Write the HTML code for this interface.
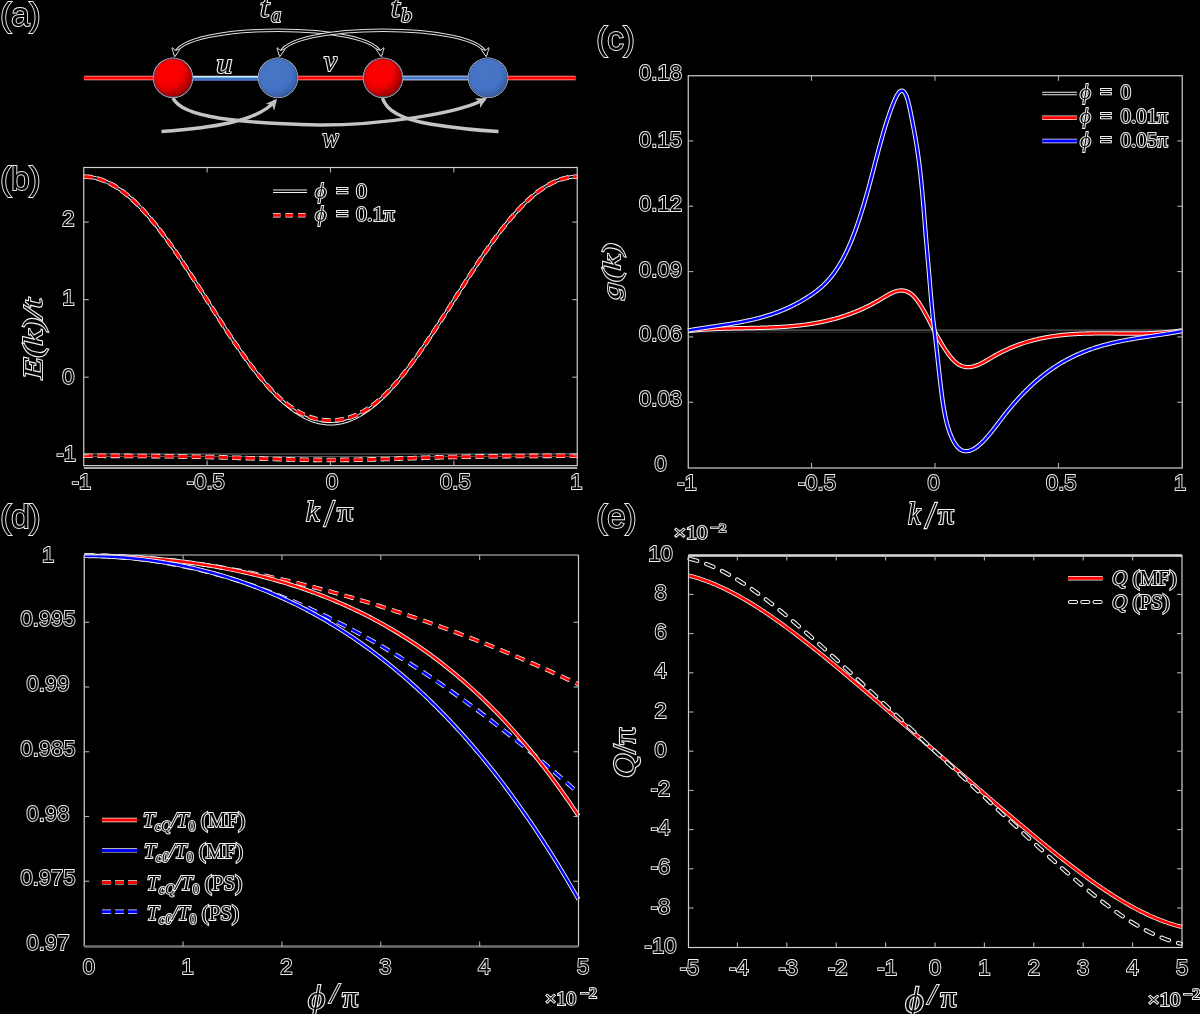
<!DOCTYPE html>
<html><head><meta charset="utf-8"><style>
html,body{margin:0;padding:0;background:#000;}
svg{display:block;will-change:transform;}
.s{font-family:"Liberation Sans",sans-serif;fill:#000;stroke:#efefef;stroke-width:1.8;paint-order:stroke;}
.m{font-family:"Liberation Serif",serif;fill:#000;stroke:#efefef;stroke-width:2;paint-order:stroke;}
.mi{font-family:"Liberation Serif",serif;font-style:italic;fill:#000;stroke:#efefef;stroke-width:2;paint-order:stroke;}
</style></head><body>
<svg width="1200" height="1014" viewBox="0 0 1200 1014">
<rect width="1200" height="1014" fill="#000"/>
<text x="0.25" y="25.5" class="s" font-size="33">(a)</text>
<text x="0.25" y="190" class="s" font-size="33">(b)</text>
<text x="596.25" y="49.5" class="s" font-size="33">(c)</text>
<text x="0.25" y="528" class="s" font-size="33">(d)</text>
<text x="596.25" y="528" class="s" font-size="33">(e)</text>
<defs>
<radialGradient id="gr" cx="0.38" cy="0.35" r="0.7"><stop offset="0" stop-color="#ff0000"/><stop offset="0.55" stop-color="#f40000"/><stop offset="1" stop-color="#8a0000"/></radialGradient>
<radialGradient id="gb" cx="0.4" cy="0.38" r="0.72"><stop offset="0" stop-color="#4a78c8"/><stop offset="0.6" stop-color="#4472c4"/><stop offset="1" stop-color="#2f5597"/></radialGradient>
<marker id="ah" viewBox="0 0 10 10" refX="8" refY="5" markerWidth="9" markerHeight="9" orient="auto-start-reverse" markerUnits="userSpaceOnUse"><path d="M0,0 L10,5 L0,10 L3,5 Z" fill="#000" stroke="#e0e0e0" stroke-width="1"/></marker>
<marker id="ag" viewBox="0 0 10 10" refX="8" refY="5" markerWidth="11" markerHeight="11" orient="auto" markerUnits="userSpaceOnUse"><path d="M0,0 L10,5 L0,10 L3,5 Z" fill="#c0c0c0"/></marker>
</defs>
<line x1="84" y1="78" x2="575.5" y2="78" stroke="#ffb0b0" stroke-width="4.4"/>
<line x1="84" y1="78" x2="575.5" y2="78" stroke="#ff0000" stroke-width="2.8"/>
<line x1="190" y1="78.5" x2="262" y2="78.5" stroke="#4472c4" stroke-width="4.6"/>
<line x1="190" y1="76.8" x2="262" y2="76.8" stroke="#c8f4ff" stroke-width="1.6"/>
<line x1="400" y1="78" x2="472" y2="78" stroke="#9ab8e8" stroke-width="4.4"/>
<line x1="400" y1="78" x2="472" y2="78" stroke="#4472c4" stroke-width="2.6"/>
<path d="M173,98 C182,118 240,123 320,125 C380,125 458,114 485,99" fill="none" stroke="#c4c4c4" stroke-width="3.4" marker-end="url(#ag)"/>
<path d="M161.5,131.5 C210,128 258,122 275.5,100.5" fill="none" stroke="#c4c4c4" stroke-width="3.4" marker-end="url(#ag)"/>
<path d="M382.5,98 C386,110 400,119 430,124 C455,128 480,130.5 498.5,131.5" fill="none" stroke="#c4c4c4" stroke-width="3.4"/>
<circle cx="173" cy="77.8" r="20.2" fill="#e0e0e0"/>
<circle cx="173" cy="77.8" r="19.3" fill="url(#gr)" stroke="#2f4a80" stroke-width="0.8"/>
<circle cx="278" cy="77.8" r="20.2" fill="#e0e0e0"/>
<circle cx="278" cy="77.8" r="19.3" fill="url(#gb)" stroke="#2f4a80" stroke-width="0.8"/>
<circle cx="383" cy="77.8" r="20.2" fill="#e0e0e0"/>
<circle cx="383" cy="77.8" r="19.3" fill="url(#gr)" stroke="#2f4a80" stroke-width="0.8"/>
<circle cx="488" cy="77.8" r="20.2" fill="#e0e0e0"/>
<circle cx="488" cy="77.8" r="19.3" fill="url(#gb)" stroke="#2f4a80" stroke-width="0.8"/>
<path d="M175,55 C180,22 376,22 381,55" fill="none" stroke="#e0e0e0" stroke-width="3.4"/>
<path d="M175,55 C180,22 376,22 381,55" fill="none" stroke="#000" stroke-width="1.4" marker-start="url(#ah)" marker-end="url(#ah)"/>
<path d="M280,55 C285,22 481,22 486,55" fill="none" stroke="#e0e0e0" stroke-width="3.4"/>
<path d="M280,55 C285,22 481,22 486,55" fill="none" stroke="#000" stroke-width="1.4" marker-start="url(#ah)" marker-end="url(#ah)"/>
<text transform="translate(260.00,17.05) scale(1.1000,0.9474)" class="mi" font-size="30">t</text>
<text transform="translate(270.92,22.06) scale(0.9231,0.9417)" class="mi" font-size="22">a</text>
<text transform="translate(391.00,17.05) scale(1.0500,0.9474)" class="mi" font-size="30">t</text>
<text transform="translate(401.00,22.06) scale(1.0000,0.9375)" class="mi" font-size="22">b</text>
<text transform="translate(216.30,73.03) scale(1.1429,0.9733)" class="mi" font-size="28">u</text>
<text transform="translate(324.05,71.45) scale(1.0467,1.0467)" class="mi" font-size="28">v</text>
<text transform="translate(322.57,146.55) scale(0.8714,0.9467)" class="mi" font-size="28">w</text>
<path d="M83.75,176.66L85.4,176.68L87.04,176.76L88.69,176.9L90.33,177.09L91.97,177.33L93.62,177.63L95.26,177.98L96.91,178.39L98.56,178.84L100.2,179.36L101.84,179.92L103.49,180.54L105.13,181.21L106.78,181.93L108.42,182.7L110.07,183.53L111.71,184.4L113.36,185.33L115,186.31L116.65,187.34L118.3,188.41L119.94,189.54L121.59,190.71L123.23,191.94L124.88,193.21L126.52,194.52L128.17,195.89L129.81,197.3L131.46,198.75L133.1,200.25L134.75,201.79L136.39,203.38L138.03,205.01L139.68,206.68L141.33,208.39L142.97,210.14L144.62,211.93L146.26,213.76L147.91,215.63L149.55,217.53L151.2,219.47L152.84,221.45L154.48,223.46L156.13,225.5L157.78,227.58L159.42,229.69L161.06,231.83L162.71,234L164.35,236.2L166,238.42L167.65,240.68L169.29,242.96L170.93,245.26L172.58,247.59L174.22,249.95L175.87,252.32L177.52,254.72L179.16,257.13L180.81,259.57L182.45,262.02L184.1,264.49L185.74,266.97L187.39,269.47L189.03,271.98L190.68,274.51L192.32,277.04L193.97,279.59L195.61,282.15L197.25,284.71L198.9,287.28L200.55,289.86L202.19,292.44L203.84,295.02L205.48,297.61L207.12,300.19L208.77,302.78L210.42,305.37L212.06,307.95L213.71,310.53L215.35,313.11L217,315.68L218.64,318.24L220.28,320.79L221.93,323.34L223.57,325.88L225.22,328.4L226.87,330.92L228.51,333.41L230.16,335.9L231.8,338.37L233.44,340.82L235.09,343.25L236.74,345.67L238.38,348.07L240.03,350.44L241.67,352.79L243.31,355.12L244.96,357.43L246.61,359.71L248.25,361.96L249.89,364.19L251.54,366.39L253.19,368.56L254.83,370.7L256.48,372.81L258.12,374.88L259.76,376.93L261.41,378.94L263.06,380.91L264.7,382.86L266.35,384.76L267.99,386.63L269.63,388.46L271.28,390.25L272.93,392L274.57,393.71L276.22,395.38L277.86,397.01L279.5,398.59L281.15,400.14L282.8,401.64L284.44,403.09L286.09,404.5L287.73,405.86L289.38,407.18L291.02,408.45L292.67,409.67L294.31,410.85L295.96,411.97L297.6,413.05L299.25,414.08L300.89,415.05L302.54,415.98L304.18,416.86L305.82,417.68L307.47,418.46L309.12,419.18L310.76,419.85L312.41,420.47L314.05,421.03L315.69,421.54L317.34,422L318.99,422.4L320.63,422.76L322.27,423.05L323.92,423.3L325.56,423.49L327.21,423.62L328.86,423.7L330.5,423.73L332.15,423.7L333.79,423.62L335.44,423.49L337.08,423.3L338.73,423.05L340.37,422.76L342.01,422.4L343.66,422L345.31,421.54L346.95,421.03L348.6,420.47L350.24,419.85L351.88,419.18L353.53,418.46L355.18,417.68L356.82,416.86L358.47,415.98L360.11,415.05L361.75,414.08L363.4,413.05L365.05,411.97L366.69,410.85L368.33,409.67L369.98,408.45L371.62,407.18L373.27,405.86L374.92,404.5L376.56,403.09L378.2,401.64L379.85,400.14L381.5,398.59L383.14,397.01L384.78,395.38L386.43,393.71L388.08,392L389.72,390.25L391.37,388.46L393.01,386.63L394.65,384.76L396.3,382.86L397.95,380.91L399.59,378.94L401.24,376.93L402.88,374.88L404.52,372.81L406.17,370.7L407.82,368.56L409.46,366.39L411.11,364.19L412.75,361.96L414.4,359.71L416.04,357.43L417.69,355.12L419.33,352.79L420.98,350.44L422.62,348.07L424.27,345.67L425.91,343.25L427.56,340.82L429.2,338.37L430.85,335.9L432.49,333.41L434.14,330.92L435.78,328.4L437.43,325.88L439.07,323.34L440.72,320.79L442.36,318.24L444.01,315.68L445.65,313.11L447.3,310.53L448.94,307.95L450.59,305.37L452.23,302.78L453.88,300.19L455.52,297.61L457.17,295.02L458.81,292.44L460.46,289.86L462.1,287.28L463.75,284.71L465.39,282.15L467.04,279.59L468.68,277.04L470.33,274.51L471.97,271.98L473.62,269.47L475.26,266.97L476.91,264.49L478.55,262.02L480.19,259.57L481.84,257.13L483.49,254.72L485.13,252.32L486.78,249.95L488.42,247.59L490.07,245.26L491.71,242.96L493.36,240.68L495,238.42L496.64,236.2L498.29,234L499.94,231.83L501.58,229.69L503.23,227.58L504.87,225.5L506.51,223.46L508.16,221.45L509.81,219.47L511.45,217.53L513.1,215.63L514.74,213.76L516.38,211.93L518.03,210.14L519.68,208.39L521.32,206.68L522.97,205.01L524.61,203.38L526.25,201.79L527.9,200.25L529.55,198.75L531.19,197.3L532.84,195.89L534.48,194.52L536.12,193.21L537.77,191.94L539.41,190.71L541.06,189.54L542.71,188.41L544.35,187.34L546,186.31L547.64,185.33L549.29,184.4L550.93,183.53L552.58,182.7L554.22,181.93L555.87,181.21L557.51,180.54L559.15,179.92L560.8,179.36L562.45,178.84L564.09,178.39L565.74,177.98L567.38,177.63L569.03,177.33L570.67,177.09L572.32,176.9L573.96,176.76L575.61,176.68L577.25,176.66" fill="none" stroke="#efefef" stroke-width="3.6" stroke-linecap="butt" stroke-linejoin="round"/>
<path d="M83.75,176.66L85.4,176.68L87.04,176.76L88.69,176.9L90.33,177.09L91.97,177.33L93.62,177.63L95.26,177.98L96.91,178.39L98.56,178.84L100.2,179.36L101.84,179.92L103.49,180.54L105.13,181.21L106.78,181.93L108.42,182.7L110.07,183.53L111.71,184.4L113.36,185.33L115,186.31L116.65,187.34L118.3,188.41L119.94,189.54L121.59,190.71L123.23,191.94L124.88,193.21L126.52,194.52L128.17,195.89L129.81,197.3L131.46,198.75L133.1,200.25L134.75,201.79L136.39,203.38L138.03,205.01L139.68,206.68L141.33,208.39L142.97,210.14L144.62,211.93L146.26,213.76L147.91,215.63L149.55,217.53L151.2,219.47L152.84,221.45L154.48,223.46L156.13,225.5L157.78,227.58L159.42,229.69L161.06,231.83L162.71,234L164.35,236.2L166,238.42L167.65,240.68L169.29,242.96L170.93,245.26L172.58,247.59L174.22,249.95L175.87,252.32L177.52,254.72L179.16,257.13L180.81,259.57L182.45,262.02L184.1,264.49L185.74,266.97L187.39,269.47L189.03,271.98L190.68,274.51L192.32,277.04L193.97,279.59L195.61,282.15L197.25,284.71L198.9,287.28L200.55,289.86L202.19,292.44L203.84,295.02L205.48,297.61L207.12,300.19L208.77,302.78L210.42,305.37L212.06,307.95L213.71,310.53L215.35,313.11L217,315.68L218.64,318.24L220.28,320.79L221.93,323.34L223.57,325.88L225.22,328.4L226.87,330.92L228.51,333.41L230.16,335.9L231.8,338.37L233.44,340.82L235.09,343.25L236.74,345.67L238.38,348.07L240.03,350.44L241.67,352.79L243.31,355.12L244.96,357.43L246.61,359.71L248.25,361.96L249.89,364.19L251.54,366.39L253.19,368.56L254.83,370.7L256.48,372.81L258.12,374.88L259.76,376.93L261.41,378.94L263.06,380.91L264.7,382.86L266.35,384.76L267.99,386.63L269.63,388.46L271.28,390.25L272.93,392L274.57,393.71L276.22,395.38L277.86,397.01L279.5,398.59L281.15,400.14L282.8,401.64L284.44,403.09L286.09,404.5L287.73,405.86L289.38,407.18L291.02,408.45L292.67,409.67L294.31,410.85L295.96,411.97L297.6,413.05L299.25,414.08L300.89,415.05L302.54,415.98L304.18,416.86L305.82,417.68L307.47,418.46L309.12,419.18L310.76,419.85L312.41,420.47L314.05,421.03L315.69,421.54L317.34,422L318.99,422.4L320.63,422.76L322.27,423.05L323.92,423.3L325.56,423.49L327.21,423.62L328.86,423.7L330.5,423.73L332.15,423.7L333.79,423.62L335.44,423.49L337.08,423.3L338.73,423.05L340.37,422.76L342.01,422.4L343.66,422L345.31,421.54L346.95,421.03L348.6,420.47L350.24,419.85L351.88,419.18L353.53,418.46L355.18,417.68L356.82,416.86L358.47,415.98L360.11,415.05L361.75,414.08L363.4,413.05L365.05,411.97L366.69,410.85L368.33,409.67L369.98,408.45L371.62,407.18L373.27,405.86L374.92,404.5L376.56,403.09L378.2,401.64L379.85,400.14L381.5,398.59L383.14,397.01L384.78,395.38L386.43,393.71L388.08,392L389.72,390.25L391.37,388.46L393.01,386.63L394.65,384.76L396.3,382.86L397.95,380.91L399.59,378.94L401.24,376.93L402.88,374.88L404.52,372.81L406.17,370.7L407.82,368.56L409.46,366.39L411.11,364.19L412.75,361.96L414.4,359.71L416.04,357.43L417.69,355.12L419.33,352.79L420.98,350.44L422.62,348.07L424.27,345.67L425.91,343.25L427.56,340.82L429.2,338.37L430.85,335.9L432.49,333.41L434.14,330.92L435.78,328.4L437.43,325.88L439.07,323.34L440.72,320.79L442.36,318.24L444.01,315.68L445.65,313.11L447.3,310.53L448.94,307.95L450.59,305.37L452.23,302.78L453.88,300.19L455.52,297.61L457.17,295.02L458.81,292.44L460.46,289.86L462.1,287.28L463.75,284.71L465.39,282.15L467.04,279.59L468.68,277.04L470.33,274.51L471.97,271.98L473.62,269.47L475.26,266.97L476.91,264.49L478.55,262.02L480.19,259.57L481.84,257.13L483.49,254.72L485.13,252.32L486.78,249.95L488.42,247.59L490.07,245.26L491.71,242.96L493.36,240.68L495,238.42L496.64,236.2L498.29,234L499.94,231.83L501.58,229.69L503.23,227.58L504.87,225.5L506.51,223.46L508.16,221.45L509.81,219.47L511.45,217.53L513.1,215.63L514.74,213.76L516.38,211.93L518.03,210.14L519.68,208.39L521.32,206.68L522.97,205.01L524.61,203.38L526.25,201.79L527.9,200.25L529.55,198.75L531.19,197.3L532.84,195.89L534.48,194.52L536.12,193.21L537.77,191.94L539.41,190.71L541.06,189.54L542.71,188.41L544.35,187.34L546,186.31L547.64,185.33L549.29,184.4L550.93,183.53L552.58,182.7L554.22,181.93L555.87,181.21L557.51,180.54L559.15,179.92L560.8,179.36L562.45,178.84L564.09,178.39L565.74,177.98L567.38,177.63L569.03,177.33L570.67,177.09L572.32,176.9L573.96,176.76L575.61,176.68L577.25,176.66" fill="none" stroke="#000" stroke-width="1.6" stroke-linecap="butt" stroke-linejoin="round"/>
<path d="M83.75,455.22L85.4,455.22L87.04,455.22L88.69,455.22L90.33,455.22L91.97,455.22L93.62,455.22L95.26,455.22L96.91,455.22L98.56,455.22L100.2,455.22L101.84,455.22L103.49,455.22L105.13,455.22L106.78,455.22L108.42,455.22L110.07,455.22L111.71,455.22L113.36,455.22L115,455.22L116.65,455.22L118.3,455.22L119.94,455.22L121.59,455.22L123.23,455.22L124.88,455.22L126.52,455.22L128.17,455.22L129.81,455.22L131.46,455.22L133.1,455.22L134.75,455.22L136.39,455.22L138.03,455.22L139.68,455.22L141.33,455.22L142.97,455.22L144.62,455.22L146.26,455.22L147.91,455.22L149.55,455.22L151.2,455.22L152.84,455.22L154.48,455.22L156.13,455.22L157.78,455.22L159.42,455.22L161.06,455.22L162.71,455.22L164.35,455.22L166,455.22L167.65,455.22L169.29,455.22L170.93,455.22L172.58,455.22L174.22,455.22L175.87,455.22L177.52,455.22L179.16,455.22L180.81,455.22L182.45,455.22L184.1,455.22L185.74,455.22L187.39,455.22L189.03,455.22L190.68,455.22L192.32,455.22L193.97,455.22L195.61,455.22L197.25,455.22L198.9,455.22L200.55,455.22L202.19,455.22L203.84,455.22L205.48,455.22L207.12,455.22L208.77,455.22L210.42,455.22L212.06,455.22L213.71,455.22L215.35,455.22L217,455.22L218.64,455.22L220.28,455.22L221.93,455.22L223.57,455.22L225.22,455.22L226.87,455.22L228.51,455.22L230.16,455.22L231.8,455.22L233.44,455.22L235.09,455.22L236.74,455.22L238.38,455.22L240.03,455.22L241.67,455.22L243.31,455.22L244.96,455.22L246.61,455.22L248.25,455.22L249.89,455.22L251.54,455.22L253.19,455.22L254.83,455.22L256.48,455.22L258.12,455.22L259.76,455.22L261.41,455.22L263.06,455.22L264.7,455.22L266.35,455.22L267.99,455.22L269.63,455.22L271.28,455.22L272.93,455.22L274.57,455.22L276.22,455.22L277.86,455.22L279.5,455.22L281.15,455.22L282.8,455.22L284.44,455.22L286.09,455.22L287.73,455.22L289.38,455.22L291.02,455.22L292.67,455.22L294.31,455.22L295.96,455.22L297.6,455.22L299.25,455.22L300.89,455.22L302.54,455.22L304.18,455.22L305.82,455.22L307.47,455.22L309.12,455.22L310.76,455.22L312.41,455.22L314.05,455.22L315.69,455.22L317.34,455.22L318.99,455.22L320.63,455.22L322.27,455.22L323.92,455.22L325.56,455.22L327.21,455.22L328.86,455.22L330.5,455.22L332.15,455.22L333.79,455.22L335.44,455.22L337.08,455.22L338.73,455.22L340.37,455.22L342.01,455.22L343.66,455.22L345.31,455.22L346.95,455.22L348.6,455.22L350.24,455.22L351.88,455.22L353.53,455.22L355.18,455.22L356.82,455.22L358.47,455.22L360.11,455.22L361.75,455.22L363.4,455.22L365.05,455.22L366.69,455.22L368.33,455.22L369.98,455.22L371.62,455.22L373.27,455.22L374.92,455.22L376.56,455.22L378.2,455.22L379.85,455.22L381.5,455.22L383.14,455.22L384.78,455.22L386.43,455.22L388.08,455.22L389.72,455.22L391.37,455.22L393.01,455.22L394.65,455.22L396.3,455.22L397.95,455.22L399.59,455.22L401.24,455.22L402.88,455.22L404.52,455.22L406.17,455.22L407.82,455.22L409.46,455.22L411.11,455.22L412.75,455.22L414.4,455.22L416.04,455.22L417.69,455.22L419.33,455.22L420.98,455.22L422.62,455.22L424.27,455.22L425.91,455.22L427.56,455.22L429.2,455.22L430.85,455.22L432.49,455.22L434.14,455.22L435.78,455.22L437.43,455.22L439.07,455.22L440.72,455.22L442.36,455.22L444.01,455.22L445.65,455.22L447.3,455.22L448.94,455.22L450.59,455.22L452.23,455.22L453.88,455.22L455.52,455.22L457.17,455.22L458.81,455.22L460.46,455.22L462.1,455.22L463.75,455.22L465.39,455.22L467.04,455.22L468.68,455.22L470.33,455.22L471.97,455.22L473.62,455.22L475.26,455.22L476.91,455.22L478.55,455.22L480.19,455.22L481.84,455.22L483.49,455.22L485.13,455.22L486.78,455.22L488.42,455.22L490.07,455.22L491.71,455.22L493.36,455.22L495,455.22L496.64,455.22L498.29,455.22L499.94,455.22L501.58,455.22L503.23,455.22L504.87,455.22L506.51,455.22L508.16,455.22L509.81,455.22L511.45,455.22L513.1,455.22L514.74,455.22L516.38,455.22L518.03,455.22L519.68,455.22L521.32,455.22L522.97,455.22L524.61,455.22L526.25,455.22L527.9,455.22L529.55,455.22L531.19,455.22L532.84,455.22L534.48,455.22L536.12,455.22L537.77,455.22L539.41,455.22L541.06,455.22L542.71,455.22L544.35,455.22L546,455.22L547.64,455.22L549.29,455.22L550.93,455.22L552.58,455.22L554.22,455.22L555.87,455.22L557.51,455.22L559.15,455.22L560.8,455.22L562.45,455.22L564.09,455.22L565.74,455.22L567.38,455.22L569.03,455.22L570.67,455.22L572.32,455.22L573.96,455.22L575.61,455.22L577.25,455.22" fill="none" stroke="#707070" stroke-width="3.2" stroke-linecap="butt" stroke-linejoin="round"/>
<path d="M83.75,455.22L85.4,455.22L87.04,455.22L88.69,455.22L90.33,455.22L91.97,455.22L93.62,455.22L95.26,455.22L96.91,455.22L98.56,455.22L100.2,455.22L101.84,455.22L103.49,455.22L105.13,455.22L106.78,455.22L108.42,455.22L110.07,455.22L111.71,455.22L113.36,455.22L115,455.22L116.65,455.22L118.3,455.22L119.94,455.22L121.59,455.22L123.23,455.22L124.88,455.22L126.52,455.22L128.17,455.22L129.81,455.22L131.46,455.22L133.1,455.22L134.75,455.22L136.39,455.22L138.03,455.22L139.68,455.22L141.33,455.22L142.97,455.22L144.62,455.22L146.26,455.22L147.91,455.22L149.55,455.22L151.2,455.22L152.84,455.22L154.48,455.22L156.13,455.22L157.78,455.22L159.42,455.22L161.06,455.22L162.71,455.22L164.35,455.22L166,455.22L167.65,455.22L169.29,455.22L170.93,455.22L172.58,455.22L174.22,455.22L175.87,455.22L177.52,455.22L179.16,455.22L180.81,455.22L182.45,455.22L184.1,455.22L185.74,455.22L187.39,455.22L189.03,455.22L190.68,455.22L192.32,455.22L193.97,455.22L195.61,455.22L197.25,455.22L198.9,455.22L200.55,455.22L202.19,455.22L203.84,455.22L205.48,455.22L207.12,455.22L208.77,455.22L210.42,455.22L212.06,455.22L213.71,455.22L215.35,455.22L217,455.22L218.64,455.22L220.28,455.22L221.93,455.22L223.57,455.22L225.22,455.22L226.87,455.22L228.51,455.22L230.16,455.22L231.8,455.22L233.44,455.22L235.09,455.22L236.74,455.22L238.38,455.22L240.03,455.22L241.67,455.22L243.31,455.22L244.96,455.22L246.61,455.22L248.25,455.22L249.89,455.22L251.54,455.22L253.19,455.22L254.83,455.22L256.48,455.22L258.12,455.22L259.76,455.22L261.41,455.22L263.06,455.22L264.7,455.22L266.35,455.22L267.99,455.22L269.63,455.22L271.28,455.22L272.93,455.22L274.57,455.22L276.22,455.22L277.86,455.22L279.5,455.22L281.15,455.22L282.8,455.22L284.44,455.22L286.09,455.22L287.73,455.22L289.38,455.22L291.02,455.22L292.67,455.22L294.31,455.22L295.96,455.22L297.6,455.22L299.25,455.22L300.89,455.22L302.54,455.22L304.18,455.22L305.82,455.22L307.47,455.22L309.12,455.22L310.76,455.22L312.41,455.22L314.05,455.22L315.69,455.22L317.34,455.22L318.99,455.22L320.63,455.22L322.27,455.22L323.92,455.22L325.56,455.22L327.21,455.22L328.86,455.22L330.5,455.22L332.15,455.22L333.79,455.22L335.44,455.22L337.08,455.22L338.73,455.22L340.37,455.22L342.01,455.22L343.66,455.22L345.31,455.22L346.95,455.22L348.6,455.22L350.24,455.22L351.88,455.22L353.53,455.22L355.18,455.22L356.82,455.22L358.47,455.22L360.11,455.22L361.75,455.22L363.4,455.22L365.05,455.22L366.69,455.22L368.33,455.22L369.98,455.22L371.62,455.22L373.27,455.22L374.92,455.22L376.56,455.22L378.2,455.22L379.85,455.22L381.5,455.22L383.14,455.22L384.78,455.22L386.43,455.22L388.08,455.22L389.72,455.22L391.37,455.22L393.01,455.22L394.65,455.22L396.3,455.22L397.95,455.22L399.59,455.22L401.24,455.22L402.88,455.22L404.52,455.22L406.17,455.22L407.82,455.22L409.46,455.22L411.11,455.22L412.75,455.22L414.4,455.22L416.04,455.22L417.69,455.22L419.33,455.22L420.98,455.22L422.62,455.22L424.27,455.22L425.91,455.22L427.56,455.22L429.2,455.22L430.85,455.22L432.49,455.22L434.14,455.22L435.78,455.22L437.43,455.22L439.07,455.22L440.72,455.22L442.36,455.22L444.01,455.22L445.65,455.22L447.3,455.22L448.94,455.22L450.59,455.22L452.23,455.22L453.88,455.22L455.52,455.22L457.17,455.22L458.81,455.22L460.46,455.22L462.1,455.22L463.75,455.22L465.39,455.22L467.04,455.22L468.68,455.22L470.33,455.22L471.97,455.22L473.62,455.22L475.26,455.22L476.91,455.22L478.55,455.22L480.19,455.22L481.84,455.22L483.49,455.22L485.13,455.22L486.78,455.22L488.42,455.22L490.07,455.22L491.71,455.22L493.36,455.22L495,455.22L496.64,455.22L498.29,455.22L499.94,455.22L501.58,455.22L503.23,455.22L504.87,455.22L506.51,455.22L508.16,455.22L509.81,455.22L511.45,455.22L513.1,455.22L514.74,455.22L516.38,455.22L518.03,455.22L519.68,455.22L521.32,455.22L522.97,455.22L524.61,455.22L526.25,455.22L527.9,455.22L529.55,455.22L531.19,455.22L532.84,455.22L534.48,455.22L536.12,455.22L537.77,455.22L539.41,455.22L541.06,455.22L542.71,455.22L544.35,455.22L546,455.22L547.64,455.22L549.29,455.22L550.93,455.22L552.58,455.22L554.22,455.22L555.87,455.22L557.51,455.22L559.15,455.22L560.8,455.22L562.45,455.22L564.09,455.22L565.74,455.22L567.38,455.22L569.03,455.22L570.67,455.22L572.32,455.22L573.96,455.22L575.61,455.22L577.25,455.22" fill="none" stroke="#000" stroke-width="1.6" stroke-linecap="butt" stroke-linejoin="round"/>
<path d="M83.75,176.66L85.4,176.68L87.04,176.76L88.69,176.9L90.33,177.09L91.97,177.33L93.62,177.63L95.26,177.98L96.91,178.39L98.56,178.84L100.2,179.36L101.84,179.92L103.49,180.54L105.13,181.21L106.78,181.93L108.42,182.7L110.07,183.53L111.71,184.4L113.36,185.33L115,186.31L116.65,187.34L118.3,188.41L119.94,189.54L121.59,190.71L123.23,191.94L124.88,193.21L126.52,194.52L128.17,195.89L129.81,197.3L131.46,198.75L133.1,200.25L134.75,201.79L136.39,203.38L138.03,205.01L139.68,206.68L141.33,208.39L142.97,210.14L144.62,211.93L146.26,213.76L147.91,215.63L149.55,217.53L151.2,219.47L152.84,221.45L154.48,223.46L156.13,225.5L157.78,227.58L159.42,229.69L161.06,231.83L162.71,234L164.35,236.2L166,238.42L167.65,240.68L169.29,242.96L170.93,245.26L172.58,247.59L174.22,249.95L175.87,252.32L177.52,254.72L179.16,257.13L180.81,259.57L182.45,262.02L184.1,264.49L185.74,266.97L187.39,269.47L189.03,271.98L190.68,274.51L192.32,277.04L193.97,279.59L195.61,282.15L197.25,284.71L198.9,287.28L200.55,289.86L202.19,292.44L203.84,295.02L205.48,297.61L207.12,300.19L208.77,302.78L210.42,305.37L212.06,307.95L213.71,310.53L215.35,313.11L217,315.68L218.64,318.24L220.28,320.79L221.93,323.34L223.57,325.88L225.22,328.4L226.87,330.91L228.51,333.41L230.16,335.89L231.8,338.36L233.44,340.81L235.09,343.24L236.74,345.66L238.38,348.05L240.03,350.42L241.67,352.77L243.31,355.1L244.96,357.4L246.61,359.67L248.25,361.92L249.89,364.14L251.54,366.33L253.19,368.49L254.83,370.61L256.48,372.71L258.12,374.77L259.76,376.8L261.41,378.79L263.06,380.74L264.7,382.65L266.35,384.53L267.99,386.36L269.63,388.15L271.28,389.9L272.93,391.61L274.57,393.27L276.22,394.89L277.86,396.46L279.5,397.98L281.15,399.45L282.8,400.88L284.44,402.25L286.09,403.58L287.73,404.85L289.38,406.08L291.02,407.25L292.67,408.37L294.31,409.44L295.96,410.46L297.6,411.42L299.25,412.34L300.89,413.2L302.54,414.01L304.18,414.77L305.82,415.48L307.47,416.14L309.12,416.75L310.76,417.31L312.41,417.83L314.05,418.29L315.69,418.71L317.34,419.09L318.99,419.41L320.63,419.7L322.27,419.93L323.92,420.13L325.56,420.28L327.21,420.39L328.86,420.45L330.5,420.47L332.15,420.45L333.79,420.39L335.44,420.28L337.08,420.13L338.73,419.93L340.37,419.7L342.01,419.41L343.66,419.09L345.31,418.71L346.95,418.29L348.6,417.83L350.24,417.31L351.88,416.75L353.53,416.14L355.18,415.48L356.82,414.77L358.47,414.01L360.11,413.2L361.75,412.34L363.4,411.42L365.05,410.46L366.69,409.44L368.33,408.37L369.98,407.25L371.62,406.08L373.27,404.85L374.92,403.58L376.56,402.25L378.2,400.88L379.85,399.45L381.5,397.98L383.14,396.46L384.78,394.89L386.43,393.27L388.08,391.61L389.72,389.9L391.37,388.15L393.01,386.36L394.65,384.53L396.3,382.65L397.95,380.74L399.59,378.79L401.24,376.8L402.88,374.77L404.52,372.71L406.17,370.61L407.82,368.49L409.46,366.33L411.11,364.14L412.75,361.92L414.4,359.67L416.04,357.4L417.69,355.1L419.33,352.77L420.98,350.42L422.62,348.05L424.27,345.66L425.91,343.24L427.56,340.81L429.2,338.36L430.85,335.89L432.49,333.41L434.14,330.91L435.78,328.4L437.43,325.88L439.07,323.34L440.72,320.79L442.36,318.24L444.01,315.68L445.65,313.11L447.3,310.53L448.94,307.95L450.59,305.37L452.23,302.78L453.88,300.19L455.52,297.61L457.17,295.02L458.81,292.44L460.46,289.86L462.1,287.28L463.75,284.71L465.39,282.15L467.04,279.59L468.68,277.04L470.33,274.51L471.97,271.98L473.62,269.47L475.26,266.97L476.91,264.49L478.55,262.02L480.19,259.57L481.84,257.13L483.49,254.72L485.13,252.32L486.78,249.95L488.42,247.59L490.07,245.26L491.71,242.96L493.36,240.68L495,238.42L496.64,236.2L498.29,234L499.94,231.83L501.58,229.69L503.23,227.58L504.87,225.5L506.51,223.46L508.16,221.45L509.81,219.47L511.45,217.53L513.1,215.63L514.74,213.76L516.38,211.93L518.03,210.14L519.68,208.39L521.32,206.68L522.97,205.01L524.61,203.38L526.25,201.79L527.9,200.25L529.55,198.75L531.19,197.3L532.84,195.89L534.48,194.52L536.12,193.21L537.77,191.94L539.41,190.71L541.06,189.54L542.71,188.41L544.35,187.34L546,186.31L547.64,185.33L549.29,184.4L550.93,183.53L552.58,182.7L554.22,181.93L555.87,181.21L557.51,180.54L559.15,179.92L560.8,179.36L562.45,178.84L564.09,178.39L565.74,177.98L567.38,177.63L569.03,177.33L570.67,177.09L572.32,176.9L573.96,176.76L575.61,176.68L577.25,176.66" fill="none" stroke="#efefef" stroke-width="4.6" stroke-dasharray="9 4.5" stroke-linecap="butt" stroke-linejoin="round"/>
<path d="M83.75,176.66L85.4,176.68L87.04,176.76L88.69,176.9L90.33,177.09L91.97,177.33L93.62,177.63L95.26,177.98L96.91,178.39L98.56,178.84L100.2,179.36L101.84,179.92L103.49,180.54L105.13,181.21L106.78,181.93L108.42,182.7L110.07,183.53L111.71,184.4L113.36,185.33L115,186.31L116.65,187.34L118.3,188.41L119.94,189.54L121.59,190.71L123.23,191.94L124.88,193.21L126.52,194.52L128.17,195.89L129.81,197.3L131.46,198.75L133.1,200.25L134.75,201.79L136.39,203.38L138.03,205.01L139.68,206.68L141.33,208.39L142.97,210.14L144.62,211.93L146.26,213.76L147.91,215.63L149.55,217.53L151.2,219.47L152.84,221.45L154.48,223.46L156.13,225.5L157.78,227.58L159.42,229.69L161.06,231.83L162.71,234L164.35,236.2L166,238.42L167.65,240.68L169.29,242.96L170.93,245.26L172.58,247.59L174.22,249.95L175.87,252.32L177.52,254.72L179.16,257.13L180.81,259.57L182.45,262.02L184.1,264.49L185.74,266.97L187.39,269.47L189.03,271.98L190.68,274.51L192.32,277.04L193.97,279.59L195.61,282.15L197.25,284.71L198.9,287.28L200.55,289.86L202.19,292.44L203.84,295.02L205.48,297.61L207.12,300.19L208.77,302.78L210.42,305.37L212.06,307.95L213.71,310.53L215.35,313.11L217,315.68L218.64,318.24L220.28,320.79L221.93,323.34L223.57,325.88L225.22,328.4L226.87,330.91L228.51,333.41L230.16,335.89L231.8,338.36L233.44,340.81L235.09,343.24L236.74,345.66L238.38,348.05L240.03,350.42L241.67,352.77L243.31,355.1L244.96,357.4L246.61,359.67L248.25,361.92L249.89,364.14L251.54,366.33L253.19,368.49L254.83,370.61L256.48,372.71L258.12,374.77L259.76,376.8L261.41,378.79L263.06,380.74L264.7,382.65L266.35,384.53L267.99,386.36L269.63,388.15L271.28,389.9L272.93,391.61L274.57,393.27L276.22,394.89L277.86,396.46L279.5,397.98L281.15,399.45L282.8,400.88L284.44,402.25L286.09,403.58L287.73,404.85L289.38,406.08L291.02,407.25L292.67,408.37L294.31,409.44L295.96,410.46L297.6,411.42L299.25,412.34L300.89,413.2L302.54,414.01L304.18,414.77L305.82,415.48L307.47,416.14L309.12,416.75L310.76,417.31L312.41,417.83L314.05,418.29L315.69,418.71L317.34,419.09L318.99,419.41L320.63,419.7L322.27,419.93L323.92,420.13L325.56,420.28L327.21,420.39L328.86,420.45L330.5,420.47L332.15,420.45L333.79,420.39L335.44,420.28L337.08,420.13L338.73,419.93L340.37,419.7L342.01,419.41L343.66,419.09L345.31,418.71L346.95,418.29L348.6,417.83L350.24,417.31L351.88,416.75L353.53,416.14L355.18,415.48L356.82,414.77L358.47,414.01L360.11,413.2L361.75,412.34L363.4,411.42L365.05,410.46L366.69,409.44L368.33,408.37L369.98,407.25L371.62,406.08L373.27,404.85L374.92,403.58L376.56,402.25L378.2,400.88L379.85,399.45L381.5,397.98L383.14,396.46L384.78,394.89L386.43,393.27L388.08,391.61L389.72,389.9L391.37,388.15L393.01,386.36L394.65,384.53L396.3,382.65L397.95,380.74L399.59,378.79L401.24,376.8L402.88,374.77L404.52,372.71L406.17,370.61L407.82,368.49L409.46,366.33L411.11,364.14L412.75,361.92L414.4,359.67L416.04,357.4L417.69,355.1L419.33,352.77L420.98,350.42L422.62,348.05L424.27,345.66L425.91,343.24L427.56,340.81L429.2,338.36L430.85,335.89L432.49,333.41L434.14,330.91L435.78,328.4L437.43,325.88L439.07,323.34L440.72,320.79L442.36,318.24L444.01,315.68L445.65,313.11L447.3,310.53L448.94,307.95L450.59,305.37L452.23,302.78L453.88,300.19L455.52,297.61L457.17,295.02L458.81,292.44L460.46,289.86L462.1,287.28L463.75,284.71L465.39,282.15L467.04,279.59L468.68,277.04L470.33,274.51L471.97,271.98L473.62,269.47L475.26,266.97L476.91,264.49L478.55,262.02L480.19,259.57L481.84,257.13L483.49,254.72L485.13,252.32L486.78,249.95L488.42,247.59L490.07,245.26L491.71,242.96L493.36,240.68L495,238.42L496.64,236.2L498.29,234L499.94,231.83L501.58,229.69L503.23,227.58L504.87,225.5L506.51,223.46L508.16,221.45L509.81,219.47L511.45,217.53L513.1,215.63L514.74,213.76L516.38,211.93L518.03,210.14L519.68,208.39L521.32,206.68L522.97,205.01L524.61,203.38L526.25,201.79L527.9,200.25L529.55,198.75L531.19,197.3L532.84,195.89L534.48,194.52L536.12,193.21L537.77,191.94L539.41,190.71L541.06,189.54L542.71,188.41L544.35,187.34L546,186.31L547.64,185.33L549.29,184.4L550.93,183.53L552.58,182.7L554.22,181.93L555.87,181.21L557.51,180.54L559.15,179.92L560.8,179.36L562.45,178.84L564.09,178.39L565.74,177.98L567.38,177.63L569.03,177.33L570.67,177.09L572.32,176.9L573.96,176.76L575.61,176.68L577.25,176.66" fill="none" stroke="#ff0000" stroke-width="3.0" stroke-dasharray="9 4.5" stroke-linecap="butt" stroke-linejoin="round"/>
<path d="M83.75,455.79L85.4,455.79L87.04,455.79L88.69,455.79L90.33,455.8L91.97,455.8L93.62,455.8L95.26,455.81L96.91,455.81L98.56,455.81L100.2,455.81L101.84,455.82L103.49,455.82L105.13,455.83L106.78,455.83L108.42,455.83L110.07,455.84L111.71,455.84L113.36,455.85L115,455.86L116.65,455.86L118.3,455.87L119.94,455.87L121.59,455.88L123.23,455.89L124.88,455.89L126.52,455.9L128.17,455.91L129.81,455.92L131.46,455.93L133.1,455.94L134.75,455.95L136.39,455.96L138.03,455.97L139.68,455.98L141.33,455.99L142.97,456L144.62,456.01L146.26,456.03L147.91,456.04L149.55,456.05L151.2,456.07L152.84,456.08L154.48,456.1L156.13,456.11L157.78,456.13L159.42,456.15L161.06,456.17L162.71,456.19L164.35,456.2L166,456.22L167.65,456.25L169.29,456.27L170.93,456.29L172.58,456.31L174.22,456.34L175.87,456.36L177.52,456.39L179.16,456.41L180.81,456.44L182.45,456.47L184.1,456.49L185.74,456.52L187.39,456.55L189.03,456.58L190.68,456.62L192.32,456.65L193.97,456.68L195.61,456.72L197.25,456.75L198.9,456.79L200.55,456.82L202.19,456.86L203.84,456.9L205.48,456.94L207.12,456.98L208.77,457.02L210.42,457.06L212.06,457.1L213.71,457.14L215.35,457.19L217,457.23L218.64,457.28L220.28,457.32L221.93,457.37L223.57,457.41L225.22,457.46L226.87,457.51L228.51,457.56L230.16,457.61L231.8,457.66L233.44,457.71L235.09,457.76L236.74,457.81L238.38,457.86L240.03,457.91L241.67,457.97L243.31,458.02L244.96,458.07L246.61,458.12L248.25,458.18L249.89,458.23L251.54,458.28L253.19,458.34L254.83,458.39L256.48,458.44L258.12,458.5L259.76,458.55L261.41,458.6L263.06,458.65L264.7,458.71L266.35,458.76L267.99,458.81L269.63,458.86L271.28,458.91L272.93,458.96L274.57,459.01L276.22,459.06L277.86,459.1L279.5,459.15L281.15,459.2L282.8,459.24L284.44,459.28L286.09,459.33L287.73,459.37L289.38,459.41L291.02,459.45L292.67,459.49L294.31,459.52L295.96,459.56L297.6,459.59L299.25,459.63L300.89,459.66L302.54,459.69L304.18,459.72L305.82,459.74L307.47,459.77L309.12,459.79L310.76,459.82L312.41,459.84L314.05,459.85L315.69,459.87L317.34,459.89L318.99,459.9L320.63,459.91L322.27,459.92L323.92,459.93L325.56,459.94L327.21,459.94L328.86,459.94L330.5,459.95L332.15,459.94L333.79,459.94L335.44,459.94L337.08,459.93L338.73,459.92L340.37,459.91L342.01,459.9L343.66,459.89L345.31,459.87L346.95,459.85L348.6,459.84L350.24,459.82L351.88,459.79L353.53,459.77L355.18,459.74L356.82,459.72L358.47,459.69L360.11,459.66L361.75,459.63L363.4,459.59L365.05,459.56L366.69,459.52L368.33,459.49L369.98,459.45L371.62,459.41L373.27,459.37L374.92,459.33L376.56,459.28L378.2,459.24L379.85,459.2L381.5,459.15L383.14,459.1L384.78,459.06L386.43,459.01L388.08,458.96L389.72,458.91L391.37,458.86L393.01,458.81L394.65,458.76L396.3,458.71L397.95,458.65L399.59,458.6L401.24,458.55L402.88,458.5L404.52,458.44L406.17,458.39L407.82,458.34L409.46,458.28L411.11,458.23L412.75,458.18L414.4,458.12L416.04,458.07L417.69,458.02L419.33,457.97L420.98,457.91L422.62,457.86L424.27,457.81L425.91,457.76L427.56,457.71L429.2,457.66L430.85,457.61L432.49,457.56L434.14,457.51L435.78,457.46L437.43,457.41L439.07,457.37L440.72,457.32L442.36,457.28L444.01,457.23L445.65,457.19L447.3,457.14L448.94,457.1L450.59,457.06L452.23,457.02L453.88,456.98L455.52,456.94L457.17,456.9L458.81,456.86L460.46,456.82L462.1,456.79L463.75,456.75L465.39,456.72L467.04,456.68L468.68,456.65L470.33,456.62L471.97,456.58L473.62,456.55L475.26,456.52L476.91,456.49L478.55,456.47L480.19,456.44L481.84,456.41L483.49,456.39L485.13,456.36L486.78,456.34L488.42,456.31L490.07,456.29L491.71,456.27L493.36,456.25L495,456.22L496.64,456.2L498.29,456.19L499.94,456.17L501.58,456.15L503.23,456.13L504.87,456.11L506.51,456.1L508.16,456.08L509.81,456.07L511.45,456.05L513.1,456.04L514.74,456.03L516.38,456.01L518.03,456L519.68,455.99L521.32,455.98L522.97,455.97L524.61,455.96L526.25,455.95L527.9,455.94L529.55,455.93L531.19,455.92L532.84,455.91L534.48,455.9L536.12,455.89L537.77,455.89L539.41,455.88L541.06,455.87L542.71,455.87L544.35,455.86L546,455.86L547.64,455.85L549.29,455.84L550.93,455.84L552.58,455.83L554.22,455.83L555.87,455.83L557.51,455.82L559.15,455.82L560.8,455.81L562.45,455.81L564.09,455.81L565.74,455.81L567.38,455.8L569.03,455.8L570.67,455.8L572.32,455.79L573.96,455.79L575.61,455.79L577.25,455.79" fill="none" stroke="#efefef" stroke-width="4.6" stroke-dasharray="9 4.5" stroke-linecap="butt" stroke-linejoin="round"/>
<path d="M83.75,455.79L85.4,455.79L87.04,455.79L88.69,455.79L90.33,455.8L91.97,455.8L93.62,455.8L95.26,455.81L96.91,455.81L98.56,455.81L100.2,455.81L101.84,455.82L103.49,455.82L105.13,455.83L106.78,455.83L108.42,455.83L110.07,455.84L111.71,455.84L113.36,455.85L115,455.86L116.65,455.86L118.3,455.87L119.94,455.87L121.59,455.88L123.23,455.89L124.88,455.89L126.52,455.9L128.17,455.91L129.81,455.92L131.46,455.93L133.1,455.94L134.75,455.95L136.39,455.96L138.03,455.97L139.68,455.98L141.33,455.99L142.97,456L144.62,456.01L146.26,456.03L147.91,456.04L149.55,456.05L151.2,456.07L152.84,456.08L154.48,456.1L156.13,456.11L157.78,456.13L159.42,456.15L161.06,456.17L162.71,456.19L164.35,456.2L166,456.22L167.65,456.25L169.29,456.27L170.93,456.29L172.58,456.31L174.22,456.34L175.87,456.36L177.52,456.39L179.16,456.41L180.81,456.44L182.45,456.47L184.1,456.49L185.74,456.52L187.39,456.55L189.03,456.58L190.68,456.62L192.32,456.65L193.97,456.68L195.61,456.72L197.25,456.75L198.9,456.79L200.55,456.82L202.19,456.86L203.84,456.9L205.48,456.94L207.12,456.98L208.77,457.02L210.42,457.06L212.06,457.1L213.71,457.14L215.35,457.19L217,457.23L218.64,457.28L220.28,457.32L221.93,457.37L223.57,457.41L225.22,457.46L226.87,457.51L228.51,457.56L230.16,457.61L231.8,457.66L233.44,457.71L235.09,457.76L236.74,457.81L238.38,457.86L240.03,457.91L241.67,457.97L243.31,458.02L244.96,458.07L246.61,458.12L248.25,458.18L249.89,458.23L251.54,458.28L253.19,458.34L254.83,458.39L256.48,458.44L258.12,458.5L259.76,458.55L261.41,458.6L263.06,458.65L264.7,458.71L266.35,458.76L267.99,458.81L269.63,458.86L271.28,458.91L272.93,458.96L274.57,459.01L276.22,459.06L277.86,459.1L279.5,459.15L281.15,459.2L282.8,459.24L284.44,459.28L286.09,459.33L287.73,459.37L289.38,459.41L291.02,459.45L292.67,459.49L294.31,459.52L295.96,459.56L297.6,459.59L299.25,459.63L300.89,459.66L302.54,459.69L304.18,459.72L305.82,459.74L307.47,459.77L309.12,459.79L310.76,459.82L312.41,459.84L314.05,459.85L315.69,459.87L317.34,459.89L318.99,459.9L320.63,459.91L322.27,459.92L323.92,459.93L325.56,459.94L327.21,459.94L328.86,459.94L330.5,459.95L332.15,459.94L333.79,459.94L335.44,459.94L337.08,459.93L338.73,459.92L340.37,459.91L342.01,459.9L343.66,459.89L345.31,459.87L346.95,459.85L348.6,459.84L350.24,459.82L351.88,459.79L353.53,459.77L355.18,459.74L356.82,459.72L358.47,459.69L360.11,459.66L361.75,459.63L363.4,459.59L365.05,459.56L366.69,459.52L368.33,459.49L369.98,459.45L371.62,459.41L373.27,459.37L374.92,459.33L376.56,459.28L378.2,459.24L379.85,459.2L381.5,459.15L383.14,459.1L384.78,459.06L386.43,459.01L388.08,458.96L389.72,458.91L391.37,458.86L393.01,458.81L394.65,458.76L396.3,458.71L397.95,458.65L399.59,458.6L401.24,458.55L402.88,458.5L404.52,458.44L406.17,458.39L407.82,458.34L409.46,458.28L411.11,458.23L412.75,458.18L414.4,458.12L416.04,458.07L417.69,458.02L419.33,457.97L420.98,457.91L422.62,457.86L424.27,457.81L425.91,457.76L427.56,457.71L429.2,457.66L430.85,457.61L432.49,457.56L434.14,457.51L435.78,457.46L437.43,457.41L439.07,457.37L440.72,457.32L442.36,457.28L444.01,457.23L445.65,457.19L447.3,457.14L448.94,457.1L450.59,457.06L452.23,457.02L453.88,456.98L455.52,456.94L457.17,456.9L458.81,456.86L460.46,456.82L462.1,456.79L463.75,456.75L465.39,456.72L467.04,456.68L468.68,456.65L470.33,456.62L471.97,456.58L473.62,456.55L475.26,456.52L476.91,456.49L478.55,456.47L480.19,456.44L481.84,456.41L483.49,456.39L485.13,456.36L486.78,456.34L488.42,456.31L490.07,456.29L491.71,456.27L493.36,456.25L495,456.22L496.64,456.2L498.29,456.19L499.94,456.17L501.58,456.15L503.23,456.13L504.87,456.11L506.51,456.1L508.16,456.08L509.81,456.07L511.45,456.05L513.1,456.04L514.74,456.03L516.38,456.01L518.03,456L519.68,455.99L521.32,455.98L522.97,455.97L524.61,455.96L526.25,455.95L527.9,455.94L529.55,455.93L531.19,455.92L532.84,455.91L534.48,455.9L536.12,455.89L537.77,455.89L539.41,455.88L541.06,455.87L542.71,455.87L544.35,455.86L546,455.86L547.64,455.85L549.29,455.84L550.93,455.84L552.58,455.83L554.22,455.83L555.87,455.83L557.51,455.82L559.15,455.82L560.8,455.81L562.45,455.81L564.09,455.81L565.74,455.81L567.38,455.8L569.03,455.8L570.67,455.8L572.32,455.79L573.96,455.79L575.61,455.79L577.25,455.79" fill="none" stroke="#ff0000" stroke-width="3.0" stroke-dasharray="9 4.5" stroke-linecap="butt" stroke-linejoin="round"/>
<rect x="83.75" y="167.5" width="493.5" height="298.1" fill="none" stroke="#cfcfcf" stroke-width="1.2"/>
<line x1="83.75" y1="468.1" x2="577.25" y2="468.1" stroke="#e0e0e0" stroke-width="1.5"/>
<line x1="207.12" y1="465.6" x2="207.12" y2="460.6" stroke="#b0b0b0" stroke-width="1.1"/>
<line x1="207.12" y1="167.5" x2="207.12" y2="172.5" stroke="#b0b0b0" stroke-width="1.1"/>
<line x1="330.5" y1="465.6" x2="330.5" y2="460.6" stroke="#b0b0b0" stroke-width="1.1"/>
<line x1="330.5" y1="167.5" x2="330.5" y2="172.5" stroke="#b0b0b0" stroke-width="1.1"/>
<line x1="453.88" y1="465.6" x2="453.88" y2="460.6" stroke="#b0b0b0" stroke-width="1.1"/>
<line x1="453.88" y1="167.5" x2="453.88" y2="172.5" stroke="#b0b0b0" stroke-width="1.1"/>
<line x1="83.75" y1="454.75" x2="88.75" y2="454.75" stroke="#b0b0b0" stroke-width="1.1"/>
<line x1="577.25" y1="454.75" x2="572.25" y2="454.75" stroke="#b0b0b0" stroke-width="1.1"/>
<line x1="83.75" y1="377.2" x2="88.75" y2="377.2" stroke="#b0b0b0" stroke-width="1.1"/>
<line x1="577.25" y1="377.2" x2="572.25" y2="377.2" stroke="#b0b0b0" stroke-width="1.1"/>
<line x1="83.75" y1="299.65" x2="88.75" y2="299.65" stroke="#b0b0b0" stroke-width="1.1"/>
<line x1="577.25" y1="299.65" x2="572.25" y2="299.65" stroke="#b0b0b0" stroke-width="1.1"/>
<line x1="83.75" y1="222.1" x2="88.75" y2="222.1" stroke="#b0b0b0" stroke-width="1.1"/>
<line x1="577.25" y1="222.1" x2="572.25" y2="222.1" stroke="#b0b0b0" stroke-width="1.1"/>
<text x="74.5" y="226.1" class="s" font-size="22" text-anchor="end">2</text>
<text x="74.5" y="305.15" class="s" font-size="22" text-anchor="end">1</text>
<text x="74.5" y="383.7" class="s" font-size="22" text-anchor="end">0</text>
<text x="76" y="460.75" class="s" font-size="22" text-anchor="end">-1</text>
<text x="81.45" y="489" class="s" font-size="22" text-anchor="middle">-1</text>
<text x="205.82" y="489" class="s" font-size="22" text-anchor="middle">-0.5</text>
<text x="332" y="489" class="s" font-size="22" text-anchor="middle">0</text>
<text x="455.38" y="489" class="s" font-size="22" text-anchor="middle">0.5</text>
<text x="576.25" y="489" class="s" font-size="22" text-anchor="middle">1</text>
<path d="M273,191.2 L307,191.2" fill="none" stroke="#efefef" stroke-width="3.6" stroke-linecap="butt" stroke-linejoin="round"/>
<path d="M273,191.2 L307,191.2" fill="none" stroke="#000" stroke-width="1.6" stroke-linecap="butt" stroke-linejoin="round"/>
<path d="M273,215.2 L307,215.2" fill="none" stroke="#efefef" stroke-width="4.4" stroke-dasharray="7.5 5" stroke-linecap="butt" stroke-linejoin="round"/>
<path d="M273,215.2 L307,215.2" fill="none" stroke="#ff0000" stroke-width="3.0" stroke-dasharray="7.5 5" stroke-linecap="butt" stroke-linejoin="round"/>
<text x="315" y="198" class="mi" font-size="22">&#981;</text>
<text x="336" y="198" class="m" font-size="22">=</text>
<text x="356" y="198" class="m" font-size="22">0</text>
<text x="315" y="221" class="mi" font-size="22">&#981;</text>
<text x="336" y="221" class="m" font-size="22">=</text>
<text x="356" y="221" class="m" font-size="22">0.1&#960;</text>
<text transform="translate(306.00,521.00) scale(1.0000,1.0000)" class="mi" font-size="30">k</text>
<text transform="translate(325.36,525.71) scale(0.8867,1.2857)" class="mi" font-size="30">/</text>
<text transform="translate(337.12,520.72) scale(1.1250,0.9800)" class="m" font-size="28">&#960;</text>
<text transform="translate(42.37,379.05) rotate(-90) scale(1.2243,0.9533)" class="mi" font-size="29">E(k)/t</text>
<line x1="688.25" y1="330.2" x2="1182.25" y2="330.2" stroke="#474747" stroke-width="2"/>
<line x1="688.25" y1="332.4" x2="1182.25" y2="332.4" stroke="#2a2a2a" stroke-width="0.8"/>
<path d="M688,331.05L688.82,330.95L689.65,330.86L690.47,330.77L691.3,330.68L692.12,330.59L692.95,330.51L693.77,330.43L694.6,330.35L695.42,330.27L696.25,330.2L697.07,330.12L697.9,330.05L698.72,329.98L699.55,329.91L700.37,329.85L701.2,329.78L702.02,329.72L702.84,329.66L703.67,329.6L704.49,329.55L705.32,329.49L706.14,329.44L706.97,329.39L707.79,329.34L708.62,329.29L709.44,329.24L710.27,329.19L711.09,329.15L711.92,329.11L712.74,329.07L713.57,329.03L714.39,328.99L715.22,328.95L716.04,328.91L716.86,328.88L717.69,328.84L718.51,328.81L719.34,328.78L720.16,328.75L720.99,328.72L721.81,328.69L722.64,328.66L723.46,328.64L724.29,328.61L725.11,328.59L725.94,328.56L726.76,328.54L727.59,328.52L728.41,328.49L729.24,328.47L730.06,328.45L730.88,328.43L731.71,328.41L732.53,328.39L733.36,328.37L734.18,328.36L735.01,328.34L735.83,328.32L736.66,328.3L737.48,328.29L738.31,328.27L739.13,328.26L739.96,328.24L740.78,328.22L741.61,328.21L742.43,328.19L743.26,328.18L744.08,328.16L744.9,328.15L745.73,328.13L746.55,328.12L747.38,328.1L748.2,328.09L749.03,328.07L749.85,328.06L750.68,328.04L751.5,328.02L752.33,328.01L753.15,327.99L753.98,327.97L754.8,327.96L755.63,327.94L756.45,327.92L757.28,327.9L758.1,327.88L758.92,327.86L759.75,327.84L760.57,327.82L761.4,327.79L762.22,327.77L763.05,327.75L763.87,327.72L764.7,327.7L765.52,327.67L766.35,327.64L767.17,327.62L768,327.59L768.82,327.56L769.65,327.53L770.47,327.49L771.3,327.46L772.12,327.43L772.94,327.39L773.77,327.35L774.59,327.31L775.42,327.28L776.24,327.23L777.07,327.19L777.89,327.15L778.72,327.1L779.54,327.06L780.37,327.01L781.19,326.96L782.02,326.91L782.84,326.86L783.67,326.8L784.49,326.75L785.32,326.69L786.14,326.63L786.96,326.57L787.79,326.51L788.61,326.44L789.44,326.37L790.26,326.31L791.09,326.23L791.91,326.16L792.74,326.09L793.56,326.01L794.39,325.93L795.21,325.85L796.04,325.77L796.86,325.68L797.69,325.6L798.51,325.51L799.34,325.41L800.16,325.32L800.98,325.22L801.81,325.12L802.63,325.02L803.46,324.92L804.28,324.81L805.11,324.7L805.93,324.59L806.76,324.48L807.58,324.36L808.41,324.24L809.23,324.12L810.06,323.99L810.88,323.87L811.71,323.73L812.53,323.6L813.36,323.46L814.18,323.32L815.01,323.18L815.83,323.04L816.65,322.89L817.48,322.74L818.3,322.58L819.13,322.42L819.95,322.26L820.78,322.1L821.6,321.93L822.43,321.76L823.25,321.59L824.08,321.41L824.9,321.23L825.73,321.05L826.55,320.86L827.38,320.67L828.2,320.47L829.03,320.27L829.85,320.07L830.67,319.87L831.5,319.66L832.32,319.44L833.15,319.23L833.97,319.01L834.8,318.78L835.62,318.56L836.45,318.32L837.27,318.09L838.1,317.85L838.92,317.6L839.75,317.36L840.57,317.1L841.4,316.85L842.22,316.59L843.05,316.32L843.87,316.06L844.69,315.78L845.52,315.51L846.34,315.23L847.17,314.94L847.99,314.65L848.82,314.36L849.64,314.06L850.47,313.75L851.29,313.45L852.12,313.13L852.94,312.82L853.77,312.5L854.59,312.17L855.42,311.84L856.24,311.5L857.07,311.16L857.89,310.82L858.71,310.47L859.54,310.11L860.36,309.75L861.19,309.39L862.01,309.02L862.84,308.65L863.66,308.27L864.49,307.88L865.31,307.49L866.14,307.1L866.96,306.7L867.79,306.29L868.61,305.88L869.44,305.47L870.26,305.04L871.09,304.62L871.91,304.19L872.73,303.75L873.56,303.31L874.38,302.86L875.21,302.4L876.03,301.94L876.86,301.48L877.68,301.01L878.51,300.53L879.33,300.05L880.16,299.56L880.98,299.07L881.81,298.57L882.63,298.08L883.46,297.58L884.28,297.08L885.11,296.59L885.93,296.11L886.75,295.63L887.58,295.16L888.4,294.7L889.23,294.26L890.05,293.83L890.88,293.42L891.7,293.03L892.53,292.65L893.35,292.31L894.18,291.98L895,291.68L895.83,291.42L896.65,291.18L897.48,290.97L898.3,290.8L899.13,290.66L899.95,290.56L900.77,290.5L901.6,290.48L902.42,290.51L903.25,290.58L904.07,290.7L904.9,290.87L905.72,291.08L906.55,291.35L907.37,291.68L908.2,292.06L909.02,292.5L909.85,293L910.67,293.56L911.5,294.19L912.32,294.88L913.15,295.64L913.97,296.47L914.79,297.37L915.62,298.34L916.44,299.37L917.27,300.45L918.09,301.6L918.92,302.79L919.74,304.04L920.57,305.33L921.39,306.66L922.22,308.04L923.04,309.45L923.87,310.89L924.69,312.36L925.52,313.86L926.34,315.38L927.17,316.92L927.99,318.47L928.81,320.04L929.64,321.62L930.46,323.21L931.29,324.8L932.11,326.38L932.94,327.97L933.76,329.55L934.59,331.11L935.41,332.67L936.24,334.2L937.06,335.73L937.89,337.23L938.71,338.71L939.54,340.17L940.36,341.61L941.19,343.03L942.01,344.41L942.83,345.77L943.66,347.1L944.48,348.4L945.31,349.67L946.13,350.91L946.96,352.1L947.78,353.27L948.61,354.39L949.43,355.47L950.26,356.51L951.08,357.51L951.91,358.46L952.73,359.37L953.56,360.23L954.38,361.04L955.21,361.8L956.03,362.51L956.85,363.16L957.68,363.76L958.5,364.3L959.33,364.79L960.15,365.23L960.98,365.62L961.8,365.97L962.63,366.26L963.45,366.51L964.28,366.72L965.1,366.88L965.93,367L966.75,367.08L967.58,367.12L968.4,367.13L969.23,367.09L970.05,367.03L970.87,366.93L971.7,366.79L972.52,366.63L973.35,366.44L974.17,366.22L975,365.97L975.82,365.7L976.65,365.41L977.47,365.09L978.3,364.75L979.12,364.4L979.95,364.02L980.77,363.63L981.6,363.22L982.42,362.8L983.25,362.36L984.07,361.92L984.89,361.46L985.72,360.99L986.54,360.52L987.37,360.04L988.19,359.56L989.02,359.08L989.84,358.59L990.67,358.1L991.49,357.62L992.32,357.13L993.14,356.65L993.97,356.18L994.79,355.71L995.62,355.25L996.44,354.79L997.27,354.34L998.09,353.9L998.91,353.46L999.74,353.03L1000.56,352.6L1001.39,352.18L1002.21,351.77L1003.04,351.37L1003.86,350.96L1004.69,350.57L1005.51,350.18L1006.34,349.8L1007.16,349.42L1007.99,349.05L1008.81,348.68L1009.64,348.32L1010.46,347.97L1011.29,347.62L1012.11,347.28L1012.93,346.94L1013.76,346.6L1014.58,346.28L1015.41,345.96L1016.23,345.64L1017.06,345.33L1017.88,345.02L1018.71,344.72L1019.53,344.43L1020.36,344.13L1021.18,343.85L1022.01,343.57L1022.83,343.29L1023.66,343.02L1024.48,342.76L1025.31,342.5L1026.13,342.24L1026.95,341.99L1027.78,341.74L1028.6,341.5L1029.43,341.26L1030.25,341.03L1031.08,340.8L1031.9,340.58L1032.73,340.36L1033.55,340.14L1034.38,339.93L1035.2,339.73L1036.03,339.52L1036.85,339.33L1037.68,339.13L1038.5,338.94L1039.33,338.76L1040.15,338.58L1040.97,338.4L1041.8,338.23L1042.62,338.06L1043.45,337.89L1044.27,337.73L1045.1,337.57L1045.92,337.42L1046.75,337.27L1047.57,337.12L1048.4,336.98L1049.22,336.84L1050.05,336.7L1050.87,336.57L1051.7,336.44L1052.52,336.31L1053.35,336.19L1054.17,336.07L1054.99,335.96L1055.82,335.84L1056.64,335.74L1057.47,335.63L1058.29,335.53L1059.12,335.43L1059.94,335.33L1060.77,335.24L1061.59,335.14L1062.42,335.06L1063.24,334.97L1064.07,334.89L1064.89,334.81L1065.72,334.73L1066.54,334.66L1067.37,334.59L1068.19,334.52L1069.02,334.45L1069.84,334.39L1070.66,334.32L1071.49,334.27L1072.31,334.21L1073.14,334.15L1073.96,334.1L1074.79,334.05L1075.61,334L1076.44,333.96L1077.26,333.91L1078.09,333.87L1078.91,333.83L1079.74,333.8L1080.56,333.76L1081.39,333.73L1082.21,333.7L1083.04,333.67L1083.86,333.64L1084.68,333.61L1085.51,333.59L1086.33,333.56L1087.16,333.54L1087.98,333.52L1088.81,333.5L1089.63,333.48L1090.46,333.47L1091.28,333.45L1092.11,333.44L1092.93,333.43L1093.76,333.42L1094.58,333.41L1095.41,333.4L1096.23,333.4L1097.06,333.39L1097.88,333.38L1098.7,333.38L1099.53,333.38L1100.35,333.38L1101.18,333.37L1102,333.37L1102.83,333.37L1103.65,333.37L1104.48,333.38L1105.3,333.38L1106.13,333.38L1106.95,333.39L1107.78,333.39L1108.6,333.39L1109.43,333.4L1110.25,333.4L1111.08,333.41L1111.9,333.42L1112.72,333.42L1113.55,333.43L1114.37,333.43L1115.2,333.44L1116.02,333.45L1116.85,333.45L1117.67,333.46L1118.5,333.47L1119.32,333.47L1120.15,333.48L1120.97,333.49L1121.8,333.49L1122.62,333.5L1123.45,333.5L1124.27,333.51L1125.1,333.51L1125.92,333.52L1126.74,333.52L1127.57,333.52L1128.39,333.53L1129.22,333.53L1130.04,333.53L1130.87,333.53L1131.69,333.53L1132.52,333.53L1133.34,333.53L1134.17,333.53L1134.99,333.52L1135.82,333.52L1136.64,333.51L1137.47,333.51L1138.29,333.5L1139.12,333.49L1139.94,333.48L1140.76,333.47L1141.59,333.46L1142.41,333.44L1143.24,333.43L1144.06,333.41L1144.89,333.39L1145.71,333.37L1146.54,333.35L1147.36,333.33L1148.19,333.3L1149.01,333.28L1149.84,333.25L1150.66,333.22L1151.49,333.19L1152.31,333.16L1153.14,333.12L1153.96,333.09L1154.78,333.05L1155.61,333.01L1156.43,332.96L1157.26,332.92L1158.08,332.87L1158.91,332.82L1159.73,332.77L1160.56,332.72L1161.38,332.66L1162.21,332.6L1163.03,332.54L1163.86,332.48L1164.68,332.41L1165.51,332.35L1166.33,332.28L1167.16,332.2L1167.98,332.13L1168.8,332.05L1169.63,331.97L1170.45,331.88L1171.28,331.8L1172.1,331.71L1172.93,331.61L1173.75,331.52L1174.58,331.42L1175.4,331.32L1176.23,331.21L1177.05,331.1L1177.88,330.99L1178.7,330.88L1179.53,330.76L1180.35,330.64L1181.18,330.51L1182,330.39" fill="none" stroke="#efefef" stroke-width="4.4" stroke-linecap="butt" stroke-linejoin="round"/>
<path d="M688,331.05L688.82,330.95L689.65,330.86L690.47,330.77L691.3,330.68L692.12,330.59L692.95,330.51L693.77,330.43L694.6,330.35L695.42,330.27L696.25,330.2L697.07,330.12L697.9,330.05L698.72,329.98L699.55,329.91L700.37,329.85L701.2,329.78L702.02,329.72L702.84,329.66L703.67,329.6L704.49,329.55L705.32,329.49L706.14,329.44L706.97,329.39L707.79,329.34L708.62,329.29L709.44,329.24L710.27,329.19L711.09,329.15L711.92,329.11L712.74,329.07L713.57,329.03L714.39,328.99L715.22,328.95L716.04,328.91L716.86,328.88L717.69,328.84L718.51,328.81L719.34,328.78L720.16,328.75L720.99,328.72L721.81,328.69L722.64,328.66L723.46,328.64L724.29,328.61L725.11,328.59L725.94,328.56L726.76,328.54L727.59,328.52L728.41,328.49L729.24,328.47L730.06,328.45L730.88,328.43L731.71,328.41L732.53,328.39L733.36,328.37L734.18,328.36L735.01,328.34L735.83,328.32L736.66,328.3L737.48,328.29L738.31,328.27L739.13,328.26L739.96,328.24L740.78,328.22L741.61,328.21L742.43,328.19L743.26,328.18L744.08,328.16L744.9,328.15L745.73,328.13L746.55,328.12L747.38,328.1L748.2,328.09L749.03,328.07L749.85,328.06L750.68,328.04L751.5,328.02L752.33,328.01L753.15,327.99L753.98,327.97L754.8,327.96L755.63,327.94L756.45,327.92L757.28,327.9L758.1,327.88L758.92,327.86L759.75,327.84L760.57,327.82L761.4,327.79L762.22,327.77L763.05,327.75L763.87,327.72L764.7,327.7L765.52,327.67L766.35,327.64L767.17,327.62L768,327.59L768.82,327.56L769.65,327.53L770.47,327.49L771.3,327.46L772.12,327.43L772.94,327.39L773.77,327.35L774.59,327.31L775.42,327.28L776.24,327.23L777.07,327.19L777.89,327.15L778.72,327.1L779.54,327.06L780.37,327.01L781.19,326.96L782.02,326.91L782.84,326.86L783.67,326.8L784.49,326.75L785.32,326.69L786.14,326.63L786.96,326.57L787.79,326.51L788.61,326.44L789.44,326.37L790.26,326.31L791.09,326.23L791.91,326.16L792.74,326.09L793.56,326.01L794.39,325.93L795.21,325.85L796.04,325.77L796.86,325.68L797.69,325.6L798.51,325.51L799.34,325.41L800.16,325.32L800.98,325.22L801.81,325.12L802.63,325.02L803.46,324.92L804.28,324.81L805.11,324.7L805.93,324.59L806.76,324.48L807.58,324.36L808.41,324.24L809.23,324.12L810.06,323.99L810.88,323.87L811.71,323.73L812.53,323.6L813.36,323.46L814.18,323.32L815.01,323.18L815.83,323.04L816.65,322.89L817.48,322.74L818.3,322.58L819.13,322.42L819.95,322.26L820.78,322.1L821.6,321.93L822.43,321.76L823.25,321.59L824.08,321.41L824.9,321.23L825.73,321.05L826.55,320.86L827.38,320.67L828.2,320.47L829.03,320.27L829.85,320.07L830.67,319.87L831.5,319.66L832.32,319.44L833.15,319.23L833.97,319.01L834.8,318.78L835.62,318.56L836.45,318.32L837.27,318.09L838.1,317.85L838.92,317.6L839.75,317.36L840.57,317.1L841.4,316.85L842.22,316.59L843.05,316.32L843.87,316.06L844.69,315.78L845.52,315.51L846.34,315.23L847.17,314.94L847.99,314.65L848.82,314.36L849.64,314.06L850.47,313.75L851.29,313.45L852.12,313.13L852.94,312.82L853.77,312.5L854.59,312.17L855.42,311.84L856.24,311.5L857.07,311.16L857.89,310.82L858.71,310.47L859.54,310.11L860.36,309.75L861.19,309.39L862.01,309.02L862.84,308.65L863.66,308.27L864.49,307.88L865.31,307.49L866.14,307.1L866.96,306.7L867.79,306.29L868.61,305.88L869.44,305.47L870.26,305.04L871.09,304.62L871.91,304.19L872.73,303.75L873.56,303.31L874.38,302.86L875.21,302.4L876.03,301.94L876.86,301.48L877.68,301.01L878.51,300.53L879.33,300.05L880.16,299.56L880.98,299.07L881.81,298.57L882.63,298.08L883.46,297.58L884.28,297.08L885.11,296.59L885.93,296.11L886.75,295.63L887.58,295.16L888.4,294.7L889.23,294.26L890.05,293.83L890.88,293.42L891.7,293.03L892.53,292.65L893.35,292.31L894.18,291.98L895,291.68L895.83,291.42L896.65,291.18L897.48,290.97L898.3,290.8L899.13,290.66L899.95,290.56L900.77,290.5L901.6,290.48L902.42,290.51L903.25,290.58L904.07,290.7L904.9,290.87L905.72,291.08L906.55,291.35L907.37,291.68L908.2,292.06L909.02,292.5L909.85,293L910.67,293.56L911.5,294.19L912.32,294.88L913.15,295.64L913.97,296.47L914.79,297.37L915.62,298.34L916.44,299.37L917.27,300.45L918.09,301.6L918.92,302.79L919.74,304.04L920.57,305.33L921.39,306.66L922.22,308.04L923.04,309.45L923.87,310.89L924.69,312.36L925.52,313.86L926.34,315.38L927.17,316.92L927.99,318.47L928.81,320.04L929.64,321.62L930.46,323.21L931.29,324.8L932.11,326.38L932.94,327.97L933.76,329.55L934.59,331.11L935.41,332.67L936.24,334.2L937.06,335.73L937.89,337.23L938.71,338.71L939.54,340.17L940.36,341.61L941.19,343.03L942.01,344.41L942.83,345.77L943.66,347.1L944.48,348.4L945.31,349.67L946.13,350.91L946.96,352.1L947.78,353.27L948.61,354.39L949.43,355.47L950.26,356.51L951.08,357.51L951.91,358.46L952.73,359.37L953.56,360.23L954.38,361.04L955.21,361.8L956.03,362.51L956.85,363.16L957.68,363.76L958.5,364.3L959.33,364.79L960.15,365.23L960.98,365.62L961.8,365.97L962.63,366.26L963.45,366.51L964.28,366.72L965.1,366.88L965.93,367L966.75,367.08L967.58,367.12L968.4,367.13L969.23,367.09L970.05,367.03L970.87,366.93L971.7,366.79L972.52,366.63L973.35,366.44L974.17,366.22L975,365.97L975.82,365.7L976.65,365.41L977.47,365.09L978.3,364.75L979.12,364.4L979.95,364.02L980.77,363.63L981.6,363.22L982.42,362.8L983.25,362.36L984.07,361.92L984.89,361.46L985.72,360.99L986.54,360.52L987.37,360.04L988.19,359.56L989.02,359.08L989.84,358.59L990.67,358.1L991.49,357.62L992.32,357.13L993.14,356.65L993.97,356.18L994.79,355.71L995.62,355.25L996.44,354.79L997.27,354.34L998.09,353.9L998.91,353.46L999.74,353.03L1000.56,352.6L1001.39,352.18L1002.21,351.77L1003.04,351.37L1003.86,350.96L1004.69,350.57L1005.51,350.18L1006.34,349.8L1007.16,349.42L1007.99,349.05L1008.81,348.68L1009.64,348.32L1010.46,347.97L1011.29,347.62L1012.11,347.28L1012.93,346.94L1013.76,346.6L1014.58,346.28L1015.41,345.96L1016.23,345.64L1017.06,345.33L1017.88,345.02L1018.71,344.72L1019.53,344.43L1020.36,344.13L1021.18,343.85L1022.01,343.57L1022.83,343.29L1023.66,343.02L1024.48,342.76L1025.31,342.5L1026.13,342.24L1026.95,341.99L1027.78,341.74L1028.6,341.5L1029.43,341.26L1030.25,341.03L1031.08,340.8L1031.9,340.58L1032.73,340.36L1033.55,340.14L1034.38,339.93L1035.2,339.73L1036.03,339.52L1036.85,339.33L1037.68,339.13L1038.5,338.94L1039.33,338.76L1040.15,338.58L1040.97,338.4L1041.8,338.23L1042.62,338.06L1043.45,337.89L1044.27,337.73L1045.1,337.57L1045.92,337.42L1046.75,337.27L1047.57,337.12L1048.4,336.98L1049.22,336.84L1050.05,336.7L1050.87,336.57L1051.7,336.44L1052.52,336.31L1053.35,336.19L1054.17,336.07L1054.99,335.96L1055.82,335.84L1056.64,335.74L1057.47,335.63L1058.29,335.53L1059.12,335.43L1059.94,335.33L1060.77,335.24L1061.59,335.14L1062.42,335.06L1063.24,334.97L1064.07,334.89L1064.89,334.81L1065.72,334.73L1066.54,334.66L1067.37,334.59L1068.19,334.52L1069.02,334.45L1069.84,334.39L1070.66,334.32L1071.49,334.27L1072.31,334.21L1073.14,334.15L1073.96,334.1L1074.79,334.05L1075.61,334L1076.44,333.96L1077.26,333.91L1078.09,333.87L1078.91,333.83L1079.74,333.8L1080.56,333.76L1081.39,333.73L1082.21,333.7L1083.04,333.67L1083.86,333.64L1084.68,333.61L1085.51,333.59L1086.33,333.56L1087.16,333.54L1087.98,333.52L1088.81,333.5L1089.63,333.48L1090.46,333.47L1091.28,333.45L1092.11,333.44L1092.93,333.43L1093.76,333.42L1094.58,333.41L1095.41,333.4L1096.23,333.4L1097.06,333.39L1097.88,333.38L1098.7,333.38L1099.53,333.38L1100.35,333.38L1101.18,333.37L1102,333.37L1102.83,333.37L1103.65,333.37L1104.48,333.38L1105.3,333.38L1106.13,333.38L1106.95,333.39L1107.78,333.39L1108.6,333.39L1109.43,333.4L1110.25,333.4L1111.08,333.41L1111.9,333.42L1112.72,333.42L1113.55,333.43L1114.37,333.43L1115.2,333.44L1116.02,333.45L1116.85,333.45L1117.67,333.46L1118.5,333.47L1119.32,333.47L1120.15,333.48L1120.97,333.49L1121.8,333.49L1122.62,333.5L1123.45,333.5L1124.27,333.51L1125.1,333.51L1125.92,333.52L1126.74,333.52L1127.57,333.52L1128.39,333.53L1129.22,333.53L1130.04,333.53L1130.87,333.53L1131.69,333.53L1132.52,333.53L1133.34,333.53L1134.17,333.53L1134.99,333.52L1135.82,333.52L1136.64,333.51L1137.47,333.51L1138.29,333.5L1139.12,333.49L1139.94,333.48L1140.76,333.47L1141.59,333.46L1142.41,333.44L1143.24,333.43L1144.06,333.41L1144.89,333.39L1145.71,333.37L1146.54,333.35L1147.36,333.33L1148.19,333.3L1149.01,333.28L1149.84,333.25L1150.66,333.22L1151.49,333.19L1152.31,333.16L1153.14,333.12L1153.96,333.09L1154.78,333.05L1155.61,333.01L1156.43,332.96L1157.26,332.92L1158.08,332.87L1158.91,332.82L1159.73,332.77L1160.56,332.72L1161.38,332.66L1162.21,332.6L1163.03,332.54L1163.86,332.48L1164.68,332.41L1165.51,332.35L1166.33,332.28L1167.16,332.2L1167.98,332.13L1168.8,332.05L1169.63,331.97L1170.45,331.88L1171.28,331.8L1172.1,331.71L1172.93,331.61L1173.75,331.52L1174.58,331.42L1175.4,331.32L1176.23,331.21L1177.05,331.1L1177.88,330.99L1178.7,330.88L1179.53,330.76L1180.35,330.64L1181.18,330.51L1182,330.39" fill="none" stroke="#ff0000" stroke-width="2.4" stroke-linecap="butt" stroke-linejoin="round"/>
<path d="M688,330.52L688.82,330.37L689.65,330.23L690.47,330.09L691.3,329.94L692.12,329.8L692.95,329.66L693.77,329.53L694.6,329.39L695.42,329.25L696.25,329.12L697.07,328.99L697.9,328.86L698.72,328.73L699.55,328.6L700.37,328.47L701.2,328.34L702.02,328.22L702.84,328.09L703.67,327.97L704.49,327.84L705.32,327.72L706.14,327.59L706.97,327.47L707.79,327.35L708.62,327.23L709.44,327.11L710.27,326.98L711.09,326.86L711.92,326.74L712.74,326.62L713.57,326.5L714.39,326.38L715.22,326.26L716.04,326.14L716.86,326.01L717.69,325.89L718.51,325.77L719.34,325.65L720.16,325.52L720.99,325.4L721.81,325.28L722.64,325.15L723.46,325.02L724.29,324.9L725.11,324.77L725.94,324.64L726.76,324.51L727.59,324.38L728.41,324.25L729.24,324.12L730.06,323.98L730.88,323.85L731.71,323.71L732.53,323.57L733.36,323.43L734.18,323.29L735.01,323.15L735.83,323.01L736.66,322.86L737.48,322.71L738.31,322.56L739.13,322.41L739.96,322.26L740.78,322.1L741.61,321.94L742.43,321.78L743.26,321.62L744.08,321.46L744.9,321.29L745.73,321.12L746.55,320.95L747.38,320.78L748.2,320.6L749.03,320.42L749.85,320.24L750.68,320.05L751.5,319.87L752.33,319.68L753.15,319.48L753.98,319.29L754.8,319.09L755.63,318.88L756.45,318.68L757.28,318.47L758.1,318.26L758.92,318.04L759.75,317.82L760.57,317.6L761.4,317.37L762.22,317.14L763.05,316.91L763.87,316.67L764.7,316.43L765.52,316.19L766.35,315.94L767.17,315.69L768,315.43L768.82,315.17L769.65,314.91L770.47,314.64L771.3,314.36L772.12,314.09L772.94,313.8L773.77,313.52L774.59,313.23L775.42,312.93L776.24,312.63L777.07,312.32L777.89,312.01L778.72,311.7L779.54,311.38L780.37,311.06L781.19,310.73L782.02,310.39L782.84,310.05L783.67,309.71L784.49,309.36L785.32,309L786.14,308.64L786.96,308.27L787.79,307.9L788.61,307.52L789.44,307.14L790.26,306.75L791.09,306.36L791.91,305.96L792.74,305.55L793.56,305.14L794.39,304.72L795.21,304.3L796.04,303.87L796.86,303.43L797.69,302.99L798.51,302.54L799.34,302.09L800.16,301.62L800.98,301.16L801.81,300.68L802.63,300.2L803.46,299.71L804.28,299.22L805.11,298.72L805.93,298.21L806.76,297.69L807.58,297.17L808.41,296.64L809.23,296.1L810.06,295.56L810.88,295.01L811.71,294.45L812.53,293.88L813.36,293.31L814.18,292.72L815.01,292.12L815.83,291.5L816.65,290.88L817.48,290.24L818.3,289.58L819.13,288.91L819.95,288.22L820.78,287.51L821.6,286.79L822.43,286.05L823.25,285.28L824.08,284.49L824.9,283.69L825.73,282.85L826.55,282L827.38,281.12L828.2,280.21L829.03,279.28L829.85,278.32L830.67,277.33L831.5,276.32L832.32,275.27L833.15,274.19L833.97,273.08L834.8,271.94L835.62,270.76L836.45,269.55L837.27,268.31L838.1,267.02L838.92,265.7L839.75,264.35L840.57,262.95L841.4,261.52L842.22,260.04L843.05,258.52L843.87,256.96L844.69,255.36L845.52,253.71L846.34,252.02L847.17,250.28L847.99,248.5L848.82,246.67L849.64,244.79L850.47,242.86L851.29,240.88L852.12,238.85L852.94,236.76L853.77,234.63L854.59,232.44L855.42,230.2L856.24,227.9L857.07,225.56L857.89,223.16L858.71,220.72L859.54,218.22L860.36,215.68L861.19,213.09L862.01,210.45L862.84,207.76L863.66,205.03L864.49,202.26L865.31,199.44L866.14,196.58L866.96,193.67L867.79,190.73L868.61,187.74L869.44,184.71L870.26,181.64L871.09,178.54L871.91,175.4L872.73,172.23L873.56,169.05L874.38,165.86L875.21,162.67L876.03,159.49L876.86,156.32L877.68,153.19L878.51,150.09L879.33,147.03L880.16,144.01L880.98,141.04L881.81,138.11L882.63,135.24L883.46,132.41L884.28,129.64L885.11,126.92L885.93,124.25L886.75,121.65L887.58,119.1L888.4,116.61L889.23,114.19L890.05,111.83L890.88,109.54L891.7,107.32L892.53,105.17L893.35,103.1L894.18,101.11L895,99.22L895.83,97.47L896.65,95.87L897.48,94.44L898.3,93.2L899.13,92.19L899.95,91.41L900.77,90.9L901.6,90.67L902.42,90.74L903.25,91.15L904.07,91.9L904.9,93.02L905.72,94.54L906.55,96.47L907.37,98.84L908.2,101.68L909.02,104.98L909.85,108.71L910.67,112.74L911.5,116.96L912.32,121.27L913.15,125.59L913.97,129.97L914.79,134.48L915.62,139.18L916.44,144.15L917.27,149.46L918.09,155.16L918.92,161.32L919.74,168.02L920.57,175.31L921.39,183.26L922.22,191.91L923.04,201.28L923.87,211.4L924.69,221.93L925.52,232.37L926.34,242.32L927.17,251.91L927.99,261.38L928.81,270.99L929.64,280.9L930.46,290.88L931.29,300.53L932.11,309.5L932.94,317.44L933.76,324.55L934.59,331.39L935.41,338.44L936.24,345.77L937.06,353.28L937.89,360.87L938.71,368.43L939.54,375.86L940.36,383.06L941.19,389.93L942.01,396.37L942.83,402.27L943.66,407.57L944.48,412.3L945.31,416.5L946.13,420.25L946.96,423.58L947.78,426.55L948.61,429.23L949.43,431.65L950.26,433.89L951.08,435.95L951.91,437.86L952.73,439.62L953.56,441.22L954.38,442.68L955.21,444L956.03,445.2L956.85,446.26L957.68,447.2L958.5,448.03L959.33,448.75L960.15,449.36L960.98,449.87L961.8,450.3L962.63,450.63L963.45,450.88L964.28,451.05L965.1,451.15L965.93,451.19L966.75,451.16L967.58,451.08L968.4,450.95L969.23,450.77L970.05,450.53L970.87,450.26L971.7,449.93L972.52,449.56L973.35,449.15L974.17,448.7L975,448.2L975.82,447.67L976.65,447.1L977.47,446.49L978.3,445.84L979.12,445.17L979.95,444.46L980.77,443.72L981.6,442.94L982.42,442.14L983.25,441.32L984.07,440.47L984.89,439.59L985.72,438.69L986.54,437.77L987.37,436.82L988.19,435.86L989.02,434.88L989.84,433.89L990.67,432.88L991.49,431.85L992.32,430.82L993.14,429.77L993.97,428.71L994.79,427.64L995.62,426.57L996.44,425.49L997.27,424.41L998.09,423.33L998.91,422.24L999.74,421.15L1000.56,420.06L1001.39,418.98L1002.21,417.9L1003.04,416.83L1003.86,415.76L1004.69,414.7L1005.51,413.65L1006.34,412.6L1007.16,411.57L1007.99,410.55L1008.81,409.54L1009.64,408.53L1010.46,407.54L1011.29,406.55L1012.11,405.58L1012.93,404.61L1013.76,403.66L1014.58,402.71L1015.41,401.77L1016.23,400.84L1017.06,399.92L1017.88,399.01L1018.71,398.11L1019.53,397.22L1020.36,396.33L1021.18,395.46L1022.01,394.59L1022.83,393.74L1023.66,392.89L1024.48,392.05L1025.31,391.22L1026.13,390.4L1026.95,389.59L1027.78,388.78L1028.6,387.99L1029.43,387.2L1030.25,386.42L1031.08,385.65L1031.9,384.89L1032.73,384.14L1033.55,383.39L1034.38,382.65L1035.2,381.93L1036.03,381.21L1036.85,380.49L1037.68,379.79L1038.5,379.1L1039.33,378.41L1040.15,377.73L1040.97,377.06L1041.8,376.39L1042.62,375.74L1043.45,375.09L1044.27,374.45L1045.1,373.82L1045.92,373.2L1046.75,372.58L1047.57,371.97L1048.4,371.37L1049.22,370.78L1050.05,370.19L1050.87,369.61L1051.7,369.04L1052.52,368.48L1053.35,367.92L1054.17,367.37L1054.99,366.83L1055.82,366.29L1056.64,365.76L1057.47,365.24L1058.29,364.72L1059.12,364.22L1059.94,363.71L1060.77,363.22L1061.59,362.73L1062.42,362.25L1063.24,361.77L1064.07,361.3L1064.89,360.84L1065.72,360.39L1066.54,359.94L1067.37,359.49L1068.19,359.05L1069.02,358.62L1069.84,358.2L1070.66,357.78L1071.49,357.36L1072.31,356.96L1073.14,356.55L1073.96,356.16L1074.79,355.77L1075.61,355.38L1076.44,355L1077.26,354.63L1078.09,354.26L1078.91,353.9L1079.74,353.54L1080.56,353.19L1081.39,352.84L1082.21,352.5L1083.04,352.16L1083.86,351.83L1084.68,351.5L1085.51,351.18L1086.33,350.86L1087.16,350.55L1087.98,350.24L1088.81,349.94L1089.63,349.64L1090.46,349.34L1091.28,349.05L1092.11,348.77L1092.93,348.49L1093.76,348.21L1094.58,347.94L1095.41,347.67L1096.23,347.41L1097.06,347.15L1097.88,346.89L1098.7,346.64L1099.53,346.39L1100.35,346.14L1101.18,345.9L1102,345.67L1102.83,345.43L1103.65,345.2L1104.48,344.98L1105.3,344.76L1106.13,344.54L1106.95,344.32L1107.78,344.11L1108.6,343.9L1109.43,343.69L1110.25,343.49L1111.08,343.29L1111.9,343.09L1112.72,342.9L1113.55,342.71L1114.37,342.52L1115.2,342.34L1116.02,342.15L1116.85,341.97L1117.67,341.8L1118.5,341.62L1119.32,341.45L1120.15,341.28L1120.97,341.11L1121.8,340.95L1122.62,340.78L1123.45,340.62L1124.27,340.46L1125.1,340.31L1125.92,340.15L1126.74,340L1127.57,339.85L1128.39,339.7L1129.22,339.55L1130.04,339.41L1130.87,339.26L1131.69,339.12L1132.52,338.98L1133.34,338.84L1134.17,338.7L1134.99,338.57L1135.82,338.43L1136.64,338.3L1137.47,338.16L1138.29,338.03L1139.12,337.9L1139.94,337.77L1140.76,337.64L1141.59,337.52L1142.41,337.39L1143.24,337.26L1144.06,337.14L1144.89,337.01L1145.71,336.89L1146.54,336.77L1147.36,336.64L1148.19,336.52L1149.01,336.4L1149.84,336.28L1150.66,336.15L1151.49,336.03L1152.31,335.91L1153.14,335.79L1153.96,335.67L1154.78,335.55L1155.61,335.42L1156.43,335.3L1157.26,335.18L1158.08,335.06L1158.91,334.94L1159.73,334.81L1160.56,334.69L1161.38,334.56L1162.21,334.44L1163.03,334.32L1163.86,334.19L1164.68,334.06L1165.51,333.93L1166.33,333.81L1167.16,333.68L1167.98,333.55L1168.8,333.41L1169.63,333.28L1170.45,333.15L1171.28,333.01L1172.1,332.88L1172.93,332.74L1173.75,332.6L1174.58,332.46L1175.4,332.32L1176.23,332.17L1177.05,332.03L1177.88,331.88L1178.7,331.73L1179.53,331.58L1180.35,331.43L1181.18,331.28L1182,331.12" fill="none" stroke="#efefef" stroke-width="4.4" stroke-linecap="butt" stroke-linejoin="round"/>
<path d="M688,330.52L688.82,330.37L689.65,330.23L690.47,330.09L691.3,329.94L692.12,329.8L692.95,329.66L693.77,329.53L694.6,329.39L695.42,329.25L696.25,329.12L697.07,328.99L697.9,328.86L698.72,328.73L699.55,328.6L700.37,328.47L701.2,328.34L702.02,328.22L702.84,328.09L703.67,327.97L704.49,327.84L705.32,327.72L706.14,327.59L706.97,327.47L707.79,327.35L708.62,327.23L709.44,327.11L710.27,326.98L711.09,326.86L711.92,326.74L712.74,326.62L713.57,326.5L714.39,326.38L715.22,326.26L716.04,326.14L716.86,326.01L717.69,325.89L718.51,325.77L719.34,325.65L720.16,325.52L720.99,325.4L721.81,325.28L722.64,325.15L723.46,325.02L724.29,324.9L725.11,324.77L725.94,324.64L726.76,324.51L727.59,324.38L728.41,324.25L729.24,324.12L730.06,323.98L730.88,323.85L731.71,323.71L732.53,323.57L733.36,323.43L734.18,323.29L735.01,323.15L735.83,323.01L736.66,322.86L737.48,322.71L738.31,322.56L739.13,322.41L739.96,322.26L740.78,322.1L741.61,321.94L742.43,321.78L743.26,321.62L744.08,321.46L744.9,321.29L745.73,321.12L746.55,320.95L747.38,320.78L748.2,320.6L749.03,320.42L749.85,320.24L750.68,320.05L751.5,319.87L752.33,319.68L753.15,319.48L753.98,319.29L754.8,319.09L755.63,318.88L756.45,318.68L757.28,318.47L758.1,318.26L758.92,318.04L759.75,317.82L760.57,317.6L761.4,317.37L762.22,317.14L763.05,316.91L763.87,316.67L764.7,316.43L765.52,316.19L766.35,315.94L767.17,315.69L768,315.43L768.82,315.17L769.65,314.91L770.47,314.64L771.3,314.36L772.12,314.09L772.94,313.8L773.77,313.52L774.59,313.23L775.42,312.93L776.24,312.63L777.07,312.32L777.89,312.01L778.72,311.7L779.54,311.38L780.37,311.06L781.19,310.73L782.02,310.39L782.84,310.05L783.67,309.71L784.49,309.36L785.32,309L786.14,308.64L786.96,308.27L787.79,307.9L788.61,307.52L789.44,307.14L790.26,306.75L791.09,306.36L791.91,305.96L792.74,305.55L793.56,305.14L794.39,304.72L795.21,304.3L796.04,303.87L796.86,303.43L797.69,302.99L798.51,302.54L799.34,302.09L800.16,301.62L800.98,301.16L801.81,300.68L802.63,300.2L803.46,299.71L804.28,299.22L805.11,298.72L805.93,298.21L806.76,297.69L807.58,297.17L808.41,296.64L809.23,296.1L810.06,295.56L810.88,295.01L811.71,294.45L812.53,293.88L813.36,293.31L814.18,292.72L815.01,292.12L815.83,291.5L816.65,290.88L817.48,290.24L818.3,289.58L819.13,288.91L819.95,288.22L820.78,287.51L821.6,286.79L822.43,286.05L823.25,285.28L824.08,284.49L824.9,283.69L825.73,282.85L826.55,282L827.38,281.12L828.2,280.21L829.03,279.28L829.85,278.32L830.67,277.33L831.5,276.32L832.32,275.27L833.15,274.19L833.97,273.08L834.8,271.94L835.62,270.76L836.45,269.55L837.27,268.31L838.1,267.02L838.92,265.7L839.75,264.35L840.57,262.95L841.4,261.52L842.22,260.04L843.05,258.52L843.87,256.96L844.69,255.36L845.52,253.71L846.34,252.02L847.17,250.28L847.99,248.5L848.82,246.67L849.64,244.79L850.47,242.86L851.29,240.88L852.12,238.85L852.94,236.76L853.77,234.63L854.59,232.44L855.42,230.2L856.24,227.9L857.07,225.56L857.89,223.16L858.71,220.72L859.54,218.22L860.36,215.68L861.19,213.09L862.01,210.45L862.84,207.76L863.66,205.03L864.49,202.26L865.31,199.44L866.14,196.58L866.96,193.67L867.79,190.73L868.61,187.74L869.44,184.71L870.26,181.64L871.09,178.54L871.91,175.4L872.73,172.23L873.56,169.05L874.38,165.86L875.21,162.67L876.03,159.49L876.86,156.32L877.68,153.19L878.51,150.09L879.33,147.03L880.16,144.01L880.98,141.04L881.81,138.11L882.63,135.24L883.46,132.41L884.28,129.64L885.11,126.92L885.93,124.25L886.75,121.65L887.58,119.1L888.4,116.61L889.23,114.19L890.05,111.83L890.88,109.54L891.7,107.32L892.53,105.17L893.35,103.1L894.18,101.11L895,99.22L895.83,97.47L896.65,95.87L897.48,94.44L898.3,93.2L899.13,92.19L899.95,91.41L900.77,90.9L901.6,90.67L902.42,90.74L903.25,91.15L904.07,91.9L904.9,93.02L905.72,94.54L906.55,96.47L907.37,98.84L908.2,101.68L909.02,104.98L909.85,108.71L910.67,112.74L911.5,116.96L912.32,121.27L913.15,125.59L913.97,129.97L914.79,134.48L915.62,139.18L916.44,144.15L917.27,149.46L918.09,155.16L918.92,161.32L919.74,168.02L920.57,175.31L921.39,183.26L922.22,191.91L923.04,201.28L923.87,211.4L924.69,221.93L925.52,232.37L926.34,242.32L927.17,251.91L927.99,261.38L928.81,270.99L929.64,280.9L930.46,290.88L931.29,300.53L932.11,309.5L932.94,317.44L933.76,324.55L934.59,331.39L935.41,338.44L936.24,345.77L937.06,353.28L937.89,360.87L938.71,368.43L939.54,375.86L940.36,383.06L941.19,389.93L942.01,396.37L942.83,402.27L943.66,407.57L944.48,412.3L945.31,416.5L946.13,420.25L946.96,423.58L947.78,426.55L948.61,429.23L949.43,431.65L950.26,433.89L951.08,435.95L951.91,437.86L952.73,439.62L953.56,441.22L954.38,442.68L955.21,444L956.03,445.2L956.85,446.26L957.68,447.2L958.5,448.03L959.33,448.75L960.15,449.36L960.98,449.87L961.8,450.3L962.63,450.63L963.45,450.88L964.28,451.05L965.1,451.15L965.93,451.19L966.75,451.16L967.58,451.08L968.4,450.95L969.23,450.77L970.05,450.53L970.87,450.26L971.7,449.93L972.52,449.56L973.35,449.15L974.17,448.7L975,448.2L975.82,447.67L976.65,447.1L977.47,446.49L978.3,445.84L979.12,445.17L979.95,444.46L980.77,443.72L981.6,442.94L982.42,442.14L983.25,441.32L984.07,440.47L984.89,439.59L985.72,438.69L986.54,437.77L987.37,436.82L988.19,435.86L989.02,434.88L989.84,433.89L990.67,432.88L991.49,431.85L992.32,430.82L993.14,429.77L993.97,428.71L994.79,427.64L995.62,426.57L996.44,425.49L997.27,424.41L998.09,423.33L998.91,422.24L999.74,421.15L1000.56,420.06L1001.39,418.98L1002.21,417.9L1003.04,416.83L1003.86,415.76L1004.69,414.7L1005.51,413.65L1006.34,412.6L1007.16,411.57L1007.99,410.55L1008.81,409.54L1009.64,408.53L1010.46,407.54L1011.29,406.55L1012.11,405.58L1012.93,404.61L1013.76,403.66L1014.58,402.71L1015.41,401.77L1016.23,400.84L1017.06,399.92L1017.88,399.01L1018.71,398.11L1019.53,397.22L1020.36,396.33L1021.18,395.46L1022.01,394.59L1022.83,393.74L1023.66,392.89L1024.48,392.05L1025.31,391.22L1026.13,390.4L1026.95,389.59L1027.78,388.78L1028.6,387.99L1029.43,387.2L1030.25,386.42L1031.08,385.65L1031.9,384.89L1032.73,384.14L1033.55,383.39L1034.38,382.65L1035.2,381.93L1036.03,381.21L1036.85,380.49L1037.68,379.79L1038.5,379.1L1039.33,378.41L1040.15,377.73L1040.97,377.06L1041.8,376.39L1042.62,375.74L1043.45,375.09L1044.27,374.45L1045.1,373.82L1045.92,373.2L1046.75,372.58L1047.57,371.97L1048.4,371.37L1049.22,370.78L1050.05,370.19L1050.87,369.61L1051.7,369.04L1052.52,368.48L1053.35,367.92L1054.17,367.37L1054.99,366.83L1055.82,366.29L1056.64,365.76L1057.47,365.24L1058.29,364.72L1059.12,364.22L1059.94,363.71L1060.77,363.22L1061.59,362.73L1062.42,362.25L1063.24,361.77L1064.07,361.3L1064.89,360.84L1065.72,360.39L1066.54,359.94L1067.37,359.49L1068.19,359.05L1069.02,358.62L1069.84,358.2L1070.66,357.78L1071.49,357.36L1072.31,356.96L1073.14,356.55L1073.96,356.16L1074.79,355.77L1075.61,355.38L1076.44,355L1077.26,354.63L1078.09,354.26L1078.91,353.9L1079.74,353.54L1080.56,353.19L1081.39,352.84L1082.21,352.5L1083.04,352.16L1083.86,351.83L1084.68,351.5L1085.51,351.18L1086.33,350.86L1087.16,350.55L1087.98,350.24L1088.81,349.94L1089.63,349.64L1090.46,349.34L1091.28,349.05L1092.11,348.77L1092.93,348.49L1093.76,348.21L1094.58,347.94L1095.41,347.67L1096.23,347.41L1097.06,347.15L1097.88,346.89L1098.7,346.64L1099.53,346.39L1100.35,346.14L1101.18,345.9L1102,345.67L1102.83,345.43L1103.65,345.2L1104.48,344.98L1105.3,344.76L1106.13,344.54L1106.95,344.32L1107.78,344.11L1108.6,343.9L1109.43,343.69L1110.25,343.49L1111.08,343.29L1111.9,343.09L1112.72,342.9L1113.55,342.71L1114.37,342.52L1115.2,342.34L1116.02,342.15L1116.85,341.97L1117.67,341.8L1118.5,341.62L1119.32,341.45L1120.15,341.28L1120.97,341.11L1121.8,340.95L1122.62,340.78L1123.45,340.62L1124.27,340.46L1125.1,340.31L1125.92,340.15L1126.74,340L1127.57,339.85L1128.39,339.7L1129.22,339.55L1130.04,339.41L1130.87,339.26L1131.69,339.12L1132.52,338.98L1133.34,338.84L1134.17,338.7L1134.99,338.57L1135.82,338.43L1136.64,338.3L1137.47,338.16L1138.29,338.03L1139.12,337.9L1139.94,337.77L1140.76,337.64L1141.59,337.52L1142.41,337.39L1143.24,337.26L1144.06,337.14L1144.89,337.01L1145.71,336.89L1146.54,336.77L1147.36,336.64L1148.19,336.52L1149.01,336.4L1149.84,336.28L1150.66,336.15L1151.49,336.03L1152.31,335.91L1153.14,335.79L1153.96,335.67L1154.78,335.55L1155.61,335.42L1156.43,335.3L1157.26,335.18L1158.08,335.06L1158.91,334.94L1159.73,334.81L1160.56,334.69L1161.38,334.56L1162.21,334.44L1163.03,334.32L1163.86,334.19L1164.68,334.06L1165.51,333.93L1166.33,333.81L1167.16,333.68L1167.98,333.55L1168.8,333.41L1169.63,333.28L1170.45,333.15L1171.28,333.01L1172.1,332.88L1172.93,332.74L1173.75,332.6L1174.58,332.46L1175.4,332.32L1176.23,332.17L1177.05,332.03L1177.88,331.88L1178.7,331.73L1179.53,331.58L1180.35,331.43L1181.18,331.28L1182,331.12" fill="none" stroke="#0000ff" stroke-width="2.4" stroke-linecap="butt" stroke-linejoin="round"/>
<rect x="688.25" y="75.75" width="494" height="392.25" fill="none" stroke="#cfcfcf" stroke-width="1.2"/>
<line x1="811.5" y1="468" x2="811.5" y2="463" stroke="#b0b0b0" stroke-width="1.1"/>
<line x1="811.5" y1="75.75" x2="811.5" y2="80.75" stroke="#b0b0b0" stroke-width="1.1"/>
<line x1="935" y1="468" x2="935" y2="463" stroke="#b0b0b0" stroke-width="1.1"/>
<line x1="935" y1="75.75" x2="935" y2="80.75" stroke="#b0b0b0" stroke-width="1.1"/>
<line x1="1058.5" y1="468" x2="1058.5" y2="463" stroke="#b0b0b0" stroke-width="1.1"/>
<line x1="1058.5" y1="75.75" x2="1058.5" y2="80.75" stroke="#b0b0b0" stroke-width="1.1"/>
<line x1="688.25" y1="402.27" x2="693.25" y2="402.27" stroke="#b0b0b0" stroke-width="1.1"/>
<line x1="1182.25" y1="402.27" x2="1177.25" y2="402.27" stroke="#b0b0b0" stroke-width="1.1"/>
<line x1="688.25" y1="336.93" x2="693.25" y2="336.93" stroke="#b0b0b0" stroke-width="1.1"/>
<line x1="1182.25" y1="336.93" x2="1177.25" y2="336.93" stroke="#b0b0b0" stroke-width="1.1"/>
<line x1="688.25" y1="271.6" x2="693.25" y2="271.6" stroke="#b0b0b0" stroke-width="1.1"/>
<line x1="1182.25" y1="271.6" x2="1177.25" y2="271.6" stroke="#b0b0b0" stroke-width="1.1"/>
<line x1="688.25" y1="206.26" x2="693.25" y2="206.26" stroke="#b0b0b0" stroke-width="1.1"/>
<line x1="1182.25" y1="206.26" x2="1177.25" y2="206.26" stroke="#b0b0b0" stroke-width="1.1"/>
<line x1="688.25" y1="140.93" x2="693.25" y2="140.93" stroke="#b0b0b0" stroke-width="1.1"/>
<line x1="1182.25" y1="140.93" x2="1177.25" y2="140.93" stroke="#b0b0b0" stroke-width="1.1"/>
<text x="660.5" y="80.1" class="s" font-size="22" text-anchor="middle">0.18</text>
<text x="660.5" y="146.93" class="s" font-size="22" text-anchor="middle">0.15</text>
<text x="660.5" y="211.26" class="s" font-size="22" text-anchor="middle">0.12</text>
<text x="660.5" y="276.6" class="s" font-size="22" text-anchor="middle">0.09</text>
<text x="660.5" y="341.43" class="s" font-size="22" text-anchor="middle">0.06</text>
<text x="660.5" y="405.77" class="s" font-size="22" text-anchor="middle">0.03</text>
<text x="660.5" y="471.1" class="s" font-size="22" text-anchor="middle">0</text>
<text x="687" y="490" class="s" font-size="22" text-anchor="middle">-1</text>
<text x="817" y="490" class="s" font-size="22" text-anchor="middle">-0.5</text>
<text x="933.5" y="490" class="s" font-size="22" text-anchor="middle">0</text>
<text x="1061.3" y="490" class="s" font-size="22" text-anchor="middle">0.5</text>
<text x="1180" y="490" class="s" font-size="22" text-anchor="middle">1</text>
<path d="M1042.3,93.5 L1076.8,93.5" fill="none" stroke="#efefef" stroke-width="3.6" stroke-linecap="butt" stroke-linejoin="round"/>
<path d="M1042.3,93.5 L1076.8,93.5" fill="none" stroke="#000" stroke-width="1.6" stroke-linecap="butt" stroke-linejoin="round"/>
<path d="M1042.3,117.8 L1076.8,117.8" fill="none" stroke="#efefef" stroke-width="4.6" stroke-linecap="butt" stroke-linejoin="round"/>
<path d="M1042.3,117.8 L1076.8,117.8" fill="none" stroke="#ff0000" stroke-width="3" stroke-linecap="butt" stroke-linejoin="round"/>
<path d="M1042.3,141 L1076.8,141" fill="none" stroke="#efefef" stroke-width="4.6" stroke-linecap="butt" stroke-linejoin="round"/>
<path d="M1042.3,141 L1076.8,141" fill="none" stroke="#0000ff" stroke-width="3" stroke-linecap="butt" stroke-linejoin="round"/>
<text x="1080" y="99" class="mi" font-size="21">&#981;</text>
<text x="1100" y="99" class="m" font-size="21">=</text>
<text x="1120.5" y="99" class="m" font-size="21">0</text>
<text x="1080" y="123" class="mi" font-size="21">&#981;</text>
<text x="1100" y="123" class="m" font-size="21">=</text>
<text x="1120.5" y="123" class="m" font-size="21">0.01&#960;</text>
<text x="1080" y="146.5" class="mi" font-size="21">&#981;</text>
<text x="1100" y="146.5" class="m" font-size="21">=</text>
<text x="1120.5" y="146.5" class="m" font-size="21">0.05&#960;</text>
<text transform="translate(907.94,523.95) scale(0.9375,1.0455)" class="mi" font-size="30">k</text>
<text transform="translate(926.24,527.71) scale(0.9800,1.2857)" class="mi" font-size="30">/</text>
<text transform="translate(938.12,523.93) scale(1.1250,1.0667)" class="m" font-size="28">&#960;</text>
<text transform="translate(619.77,299.69) rotate(-90) scale(1.2146,0.9032)" class="mi" font-size="29">g(k)</text>
<path d="M84.25,555.32L86.73,555.33L89.22,555.34L91.7,555.36L94.18,555.39L96.67,555.43L99.15,555.48L101.64,555.54L104.12,555.6L106.6,555.68L109.09,555.76L111.57,555.85L114.05,555.95L116.54,556.05L119.02,556.17L121.51,556.29L123.99,556.42L126.47,556.56L128.96,556.71L131.44,556.86L133.92,557.02L136.41,557.19L138.89,557.37L141.37,557.56L143.86,557.75L146.34,557.95L148.83,558.16L151.31,558.38L153.79,558.6L156.28,558.83L158.76,559.07L161.24,559.32L163.73,559.57L166.21,559.83L168.69,560.1L171.18,560.38L173.66,560.66L176.15,560.95L178.63,561.25L181.11,561.55L183.6,561.86L186.08,562.18L188.56,562.5L191.05,562.84L193.53,563.18L196.02,563.52L198.5,563.87L200.98,564.23L203.47,564.6L205.95,564.97L208.43,565.35L210.92,565.74L213.4,566.13L215.88,566.53L218.37,566.94L220.85,567.35L223.34,567.77L225.82,568.2L228.3,568.63L230.79,569.07L233.27,569.51L235.75,569.96L238.24,570.42L240.72,570.89L243.2,571.36L245.69,571.83L248.17,572.32L250.66,572.81L253.14,573.3L255.62,573.8L258.11,574.31L260.59,574.82L263.07,575.34L265.56,575.87L268.04,576.4L270.53,576.94L273.01,577.48L275.49,578.03L277.98,578.58L280.46,579.14L282.94,579.71L285.43,580.28L287.91,580.86L290.39,581.45L292.88,582.04L295.36,582.63L297.85,583.23L300.33,583.84L302.81,584.45L305.3,585.07L307.78,585.7L310.26,586.32L312.75,586.96L315.23,587.6L317.71,588.25L320.2,588.9L322.68,589.55L325.17,590.22L327.65,590.88L330.13,591.56L332.62,592.24L335.1,592.92L337.58,593.61L340.07,594.3L342.55,595L345.04,595.71L347.52,596.42L350,597.14L352.49,597.86L354.97,598.58L357.45,599.32L359.94,600.05L362.42,600.8L364.9,601.54L367.39,602.3L369.87,603.05L372.36,603.82L374.84,604.58L377.32,605.36L379.81,606.13L382.29,606.92L384.77,607.71L387.26,608.5L389.74,609.3L392.22,610.1L394.71,610.91L397.19,611.72L399.68,612.54L402.16,613.37L404.64,614.19L407.13,615.03L409.61,615.87L412.09,616.71L414.58,617.56L417.06,618.41L419.55,619.27L422.03,620.13L424.51,621L427,621.88L429.48,622.75L431.96,623.64L434.45,624.52L436.93,625.42L439.41,626.32L441.9,627.22L444.38,628.13L446.87,629.04L449.35,629.95L451.83,630.88L454.32,631.8L456.8,632.74L459.28,633.67L461.77,634.61L464.25,635.56L466.73,636.51L469.22,637.47L471.7,638.43L474.19,639.39L476.67,640.37L479.15,641.34L481.64,642.32L484.12,643.31L486.6,644.3L489.09,645.29L491.57,646.29L494.06,647.3L496.54,648.31L499.02,649.32L501.51,650.34L503.99,651.36L506.47,652.39L508.96,653.43L511.44,654.47L513.92,655.51L516.41,656.56L518.89,657.61L521.38,658.67L523.86,659.73L526.34,660.8L528.83,661.87L531.31,662.95L533.79,664.04L536.28,665.12L538.76,666.22L541.24,667.31L543.73,668.42L546.21,669.52L548.7,670.64L551.18,671.75L553.66,672.88L556.15,674.01L558.63,675.14L561.11,676.28L563.6,677.42L566.08,678.57L568.57,679.72L571.05,680.88L573.53,682.04L576.02,683.21L578.5,684.38" fill="none" stroke="#efefef" stroke-width="4.2" stroke-dasharray="10 6.5" stroke-linecap="butt" stroke-linejoin="round"/>
<path d="M84.25,555.32L86.73,555.33L89.22,555.34L91.7,555.36L94.18,555.39L96.67,555.43L99.15,555.48L101.64,555.54L104.12,555.6L106.6,555.68L109.09,555.76L111.57,555.85L114.05,555.95L116.54,556.05L119.02,556.17L121.51,556.29L123.99,556.42L126.47,556.56L128.96,556.71L131.44,556.86L133.92,557.02L136.41,557.19L138.89,557.37L141.37,557.56L143.86,557.75L146.34,557.95L148.83,558.16L151.31,558.38L153.79,558.6L156.28,558.83L158.76,559.07L161.24,559.32L163.73,559.57L166.21,559.83L168.69,560.1L171.18,560.38L173.66,560.66L176.15,560.95L178.63,561.25L181.11,561.55L183.6,561.86L186.08,562.18L188.56,562.5L191.05,562.84L193.53,563.18L196.02,563.52L198.5,563.87L200.98,564.23L203.47,564.6L205.95,564.97L208.43,565.35L210.92,565.74L213.4,566.13L215.88,566.53L218.37,566.94L220.85,567.35L223.34,567.77L225.82,568.2L228.3,568.63L230.79,569.07L233.27,569.51L235.75,569.96L238.24,570.42L240.72,570.89L243.2,571.36L245.69,571.83L248.17,572.32L250.66,572.81L253.14,573.3L255.62,573.8L258.11,574.31L260.59,574.82L263.07,575.34L265.56,575.87L268.04,576.4L270.53,576.94L273.01,577.48L275.49,578.03L277.98,578.58L280.46,579.14L282.94,579.71L285.43,580.28L287.91,580.86L290.39,581.45L292.88,582.04L295.36,582.63L297.85,583.23L300.33,583.84L302.81,584.45L305.3,585.07L307.78,585.7L310.26,586.32L312.75,586.96L315.23,587.6L317.71,588.25L320.2,588.9L322.68,589.55L325.17,590.22L327.65,590.88L330.13,591.56L332.62,592.24L335.1,592.92L337.58,593.61L340.07,594.3L342.55,595L345.04,595.71L347.52,596.42L350,597.14L352.49,597.86L354.97,598.58L357.45,599.32L359.94,600.05L362.42,600.8L364.9,601.54L367.39,602.3L369.87,603.05L372.36,603.82L374.84,604.58L377.32,605.36L379.81,606.13L382.29,606.92L384.77,607.71L387.26,608.5L389.74,609.3L392.22,610.1L394.71,610.91L397.19,611.72L399.68,612.54L402.16,613.37L404.64,614.19L407.13,615.03L409.61,615.87L412.09,616.71L414.58,617.56L417.06,618.41L419.55,619.27L422.03,620.13L424.51,621L427,621.88L429.48,622.75L431.96,623.64L434.45,624.52L436.93,625.42L439.41,626.32L441.9,627.22L444.38,628.13L446.87,629.04L449.35,629.95L451.83,630.88L454.32,631.8L456.8,632.74L459.28,633.67L461.77,634.61L464.25,635.56L466.73,636.51L469.22,637.47L471.7,638.43L474.19,639.39L476.67,640.37L479.15,641.34L481.64,642.32L484.12,643.31L486.6,644.3L489.09,645.29L491.57,646.29L494.06,647.3L496.54,648.31L499.02,649.32L501.51,650.34L503.99,651.36L506.47,652.39L508.96,653.43L511.44,654.47L513.92,655.51L516.41,656.56L518.89,657.61L521.38,658.67L523.86,659.73L526.34,660.8L528.83,661.87L531.31,662.95L533.79,664.04L536.28,665.12L538.76,666.22L541.24,667.31L543.73,668.42L546.21,669.52L548.7,670.64L551.18,671.75L553.66,672.88L556.15,674.01L558.63,675.14L561.11,676.28L563.6,677.42L566.08,678.57L568.57,679.72L571.05,680.88L573.53,682.04L576.02,683.21L578.5,684.38" fill="none" stroke="#ff0000" stroke-width="2.6" stroke-dasharray="10 6.5" stroke-linecap="butt" stroke-linejoin="round"/>
<path d="M84.25,555.83L86.73,555.84L89.22,555.86L91.7,555.89L94.18,555.94L96.67,556L99.15,556.08L101.64,556.16L104.12,556.27L106.6,556.38L109.09,556.51L111.57,556.65L114.05,556.8L116.54,556.97L119.02,557.15L121.51,557.34L123.99,557.54L126.47,557.76L128.96,557.99L131.44,558.24L133.92,558.5L136.41,558.77L138.89,559.05L141.37,559.35L143.86,559.66L146.34,559.98L148.83,560.32L151.31,560.66L153.79,561.03L156.28,561.4L158.76,561.79L161.24,562.19L163.73,562.6L166.21,563.02L168.69,563.46L171.18,563.91L173.66,564.38L176.15,564.85L178.63,565.34L181.11,565.84L183.6,566.36L186.08,566.89L188.56,567.43L191.05,567.98L193.53,568.54L196.02,569.12L198.5,569.71L200.98,570.31L203.47,570.93L205.95,571.56L208.43,572.2L210.92,572.85L213.4,573.51L215.88,574.19L218.37,574.88L220.85,575.58L223.34,576.3L225.82,577.02L228.3,577.76L230.79,578.51L233.27,579.28L235.75,580.05L238.24,580.84L240.72,581.64L243.2,582.45L245.69,583.28L248.17,584.12L250.66,584.97L253.14,585.83L255.62,586.7L258.11,587.58L260.59,588.48L263.07,589.39L265.56,590.31L268.04,591.24L270.53,592.19L273.01,593.15L275.49,594.12L277.98,595.1L280.46,596.09L282.94,597.09L285.43,598.11L287.91,599.14L290.39,600.18L292.88,601.23L295.36,602.29L297.85,603.37L300.33,604.45L302.81,605.55L305.3,606.66L307.78,607.78L310.26,608.91L312.75,610.06L315.23,611.21L317.71,612.38L320.2,613.56L322.68,614.75L325.17,615.95L327.65,617.16L330.13,618.39L332.62,619.62L335.1,620.87L337.58,622.13L340.07,623.4L342.55,624.68L345.04,625.97L347.52,627.27L350,628.59L352.49,629.91L354.97,631.25L357.45,632.6L359.94,633.95L362.42,635.32L364.9,636.7L367.39,638.09L369.87,639.5L372.36,640.91L374.84,642.33L377.32,643.77L379.81,645.21L382.29,646.67L384.77,648.14L387.26,649.62L389.74,651.1L392.22,652.6L394.71,654.11L397.19,655.63L399.68,657.16L402.16,658.71L404.64,660.26L407.13,661.82L409.61,663.39L412.09,664.98L414.58,666.57L417.06,668.17L419.55,669.79L422.03,671.41L424.51,673.05L427,674.69L429.48,676.35L431.96,678.01L434.45,679.69L436.93,681.38L439.41,683.07L441.9,684.78L444.38,686.49L446.87,688.22L449.35,689.96L451.83,691.7L454.32,693.46L456.8,695.22L459.28,697L461.77,698.78L464.25,700.58L466.73,702.38L469.22,704.2L471.7,706.02L474.19,707.86L476.67,709.7L479.15,711.55L481.64,713.42L484.12,715.29L486.6,717.17L489.09,719.06L491.57,720.96L494.06,722.87L496.54,724.79L499.02,726.72L501.51,728.65L503.99,730.6L506.47,732.56L508.96,734.52L511.44,736.5L513.92,738.48L516.41,740.47L518.89,742.47L521.38,744.48L523.86,746.5L526.34,748.53L528.83,750.57L531.31,752.61L533.79,754.67L536.28,756.73L538.76,758.8L541.24,760.88L543.73,762.97L546.21,765.07L548.7,767.18L551.18,769.29L553.66,771.42L556.15,773.55L558.63,775.69L561.11,777.84L563.6,780L566.08,782.16L568.57,784.34L571.05,786.52L573.53,788.71L576.02,790.91L578.5,793.11" fill="none" stroke="#efefef" stroke-width="4.2" stroke-dasharray="10 6.5" stroke-linecap="butt" stroke-linejoin="round"/>
<path d="M84.25,555.83L86.73,555.84L89.22,555.86L91.7,555.89L94.18,555.94L96.67,556L99.15,556.08L101.64,556.16L104.12,556.27L106.6,556.38L109.09,556.51L111.57,556.65L114.05,556.8L116.54,556.97L119.02,557.15L121.51,557.34L123.99,557.54L126.47,557.76L128.96,557.99L131.44,558.24L133.92,558.5L136.41,558.77L138.89,559.05L141.37,559.35L143.86,559.66L146.34,559.98L148.83,560.32L151.31,560.66L153.79,561.03L156.28,561.4L158.76,561.79L161.24,562.19L163.73,562.6L166.21,563.02L168.69,563.46L171.18,563.91L173.66,564.38L176.15,564.85L178.63,565.34L181.11,565.84L183.6,566.36L186.08,566.89L188.56,567.43L191.05,567.98L193.53,568.54L196.02,569.12L198.5,569.71L200.98,570.31L203.47,570.93L205.95,571.56L208.43,572.2L210.92,572.85L213.4,573.51L215.88,574.19L218.37,574.88L220.85,575.58L223.34,576.3L225.82,577.02L228.3,577.76L230.79,578.51L233.27,579.28L235.75,580.05L238.24,580.84L240.72,581.64L243.2,582.45L245.69,583.28L248.17,584.12L250.66,584.97L253.14,585.83L255.62,586.7L258.11,587.58L260.59,588.48L263.07,589.39L265.56,590.31L268.04,591.24L270.53,592.19L273.01,593.15L275.49,594.12L277.98,595.1L280.46,596.09L282.94,597.09L285.43,598.11L287.91,599.14L290.39,600.18L292.88,601.23L295.36,602.29L297.85,603.37L300.33,604.45L302.81,605.55L305.3,606.66L307.78,607.78L310.26,608.91L312.75,610.06L315.23,611.21L317.71,612.38L320.2,613.56L322.68,614.75L325.17,615.95L327.65,617.16L330.13,618.39L332.62,619.62L335.1,620.87L337.58,622.13L340.07,623.4L342.55,624.68L345.04,625.97L347.52,627.27L350,628.59L352.49,629.91L354.97,631.25L357.45,632.6L359.94,633.95L362.42,635.32L364.9,636.7L367.39,638.09L369.87,639.5L372.36,640.91L374.84,642.33L377.32,643.77L379.81,645.21L382.29,646.67L384.77,648.14L387.26,649.62L389.74,651.1L392.22,652.6L394.71,654.11L397.19,655.63L399.68,657.16L402.16,658.71L404.64,660.26L407.13,661.82L409.61,663.39L412.09,664.98L414.58,666.57L417.06,668.17L419.55,669.79L422.03,671.41L424.51,673.05L427,674.69L429.48,676.35L431.96,678.01L434.45,679.69L436.93,681.38L439.41,683.07L441.9,684.78L444.38,686.49L446.87,688.22L449.35,689.96L451.83,691.7L454.32,693.46L456.8,695.22L459.28,697L461.77,698.78L464.25,700.58L466.73,702.38L469.22,704.2L471.7,706.02L474.19,707.86L476.67,709.7L479.15,711.55L481.64,713.42L484.12,715.29L486.6,717.17L489.09,719.06L491.57,720.96L494.06,722.87L496.54,724.79L499.02,726.72L501.51,728.65L503.99,730.6L506.47,732.56L508.96,734.52L511.44,736.5L513.92,738.48L516.41,740.47L518.89,742.47L521.38,744.48L523.86,746.5L526.34,748.53L528.83,750.57L531.31,752.61L533.79,754.67L536.28,756.73L538.76,758.8L541.24,760.88L543.73,762.97L546.21,765.07L548.7,767.18L551.18,769.29L553.66,771.42L556.15,773.55L558.63,775.69L561.11,777.84L563.6,780L566.08,782.16L568.57,784.34L571.05,786.52L573.53,788.71L576.02,790.91L578.5,793.11" fill="none" stroke="#0000ff" stroke-width="2.6" stroke-dasharray="10 6.5" stroke-linecap="butt" stroke-linejoin="round"/>
<path d="M84.25,555.65L86.73,555.65L89.22,555.67L91.7,555.69L94.18,555.71L96.67,555.75L99.15,555.79L101.64,555.84L104.12,555.9L106.6,555.96L109.09,556.03L111.57,556.11L114.05,556.2L116.54,556.29L119.02,556.39L121.51,556.5L123.99,556.62L126.47,556.75L128.96,556.88L131.44,557.02L133.92,557.17L136.41,557.32L138.89,557.49L141.37,557.66L143.86,557.84L146.34,558.02L148.83,558.22L151.31,558.42L153.79,558.63L156.28,558.85L158.76,559.08L161.24,559.32L163.73,559.56L166.21,559.81L168.69,560.07L171.18,560.34L173.66,560.62L176.15,560.9L178.63,561.2L181.11,561.5L183.6,561.81L186.08,562.13L188.56,562.46L191.05,562.8L193.53,563.14L196.02,563.5L198.5,563.86L200.98,564.24L203.47,564.62L205.95,565.01L208.43,565.42L210.92,565.83L213.4,566.25L215.88,566.68L218.37,567.12L220.85,567.57L223.34,568.03L225.82,568.5L228.3,568.98L230.79,569.47L233.27,569.98L235.75,570.49L238.24,571.01L240.72,571.54L243.2,572.09L245.69,572.64L248.17,573.21L250.66,573.78L253.14,574.37L255.62,574.97L258.11,575.58L260.59,576.21L263.07,576.84L265.56,577.49L268.04,578.14L270.53,578.81L273.01,579.5L275.49,580.19L277.98,580.9L280.46,581.62L282.94,582.35L285.43,583.09L287.91,583.85L290.39,584.62L292.88,585.41L295.36,586.21L297.85,587.02L300.33,587.85L302.81,588.69L305.3,589.54L307.78,590.41L310.26,591.29L312.75,592.19L315.23,593.1L317.71,594.02L320.2,594.97L322.68,595.92L325.17,596.89L327.65,597.88L330.13,598.88L332.62,599.9L335.1,600.94L337.58,601.99L340.07,603.06L342.55,604.14L345.04,605.24L347.52,606.36L350,607.5L352.49,608.65L354.97,609.82L357.45,611.01L359.94,612.21L362.42,613.43L364.9,614.68L367.39,615.94L369.87,617.22L372.36,618.51L374.84,619.83L377.32,621.17L379.81,622.52L382.29,623.9L384.77,625.29L387.26,626.71L389.74,628.14L392.22,629.6L394.71,631.08L397.19,632.58L399.68,634.1L402.16,635.64L404.64,637.2L407.13,638.78L409.61,640.39L412.09,642.02L414.58,643.67L417.06,645.34L419.55,647.04L422.03,648.76L424.51,650.51L427,652.27L429.48,654.07L431.96,655.88L434.45,657.72L436.93,659.59L439.41,661.48L441.9,663.39L444.38,665.34L446.87,667.3L449.35,669.3L451.83,671.31L454.32,673.36L456.8,675.43L459.28,677.53L461.77,679.66L464.25,681.81L466.73,684L469.22,686.21L471.7,688.45L474.19,690.71L476.67,693.01L479.15,695.34L481.64,697.69L484.12,700.08L486.6,702.49L489.09,704.94L491.57,707.42L494.06,709.92L496.54,712.46L499.02,715.03L501.51,717.63L503.99,720.27L506.47,722.94L508.96,725.63L511.44,728.37L513.92,731.13L516.41,733.93L518.89,736.77L521.38,739.63L523.86,742.54L526.34,745.47L528.83,748.45L531.31,751.45L533.79,754.5L536.28,757.58L538.76,760.69L541.24,763.85L543.73,767.04L546.21,770.27L548.7,773.53L551.18,776.83L553.66,780.18L556.15,783.56L558.63,786.98L561.11,790.44L563.6,793.94L566.08,797.48L568.57,801.06L571.05,804.68L573.53,808.34L576.02,812.04L578.5,815.79" fill="none" stroke="#efefef" stroke-width="4.2" stroke-linecap="butt" stroke-linejoin="round"/>
<path d="M84.25,555.65L86.73,555.65L89.22,555.67L91.7,555.69L94.18,555.71L96.67,555.75L99.15,555.79L101.64,555.84L104.12,555.9L106.6,555.96L109.09,556.03L111.57,556.11L114.05,556.2L116.54,556.29L119.02,556.39L121.51,556.5L123.99,556.62L126.47,556.75L128.96,556.88L131.44,557.02L133.92,557.17L136.41,557.32L138.89,557.49L141.37,557.66L143.86,557.84L146.34,558.02L148.83,558.22L151.31,558.42L153.79,558.63L156.28,558.85L158.76,559.08L161.24,559.32L163.73,559.56L166.21,559.81L168.69,560.07L171.18,560.34L173.66,560.62L176.15,560.9L178.63,561.2L181.11,561.5L183.6,561.81L186.08,562.13L188.56,562.46L191.05,562.8L193.53,563.14L196.02,563.5L198.5,563.86L200.98,564.24L203.47,564.62L205.95,565.01L208.43,565.42L210.92,565.83L213.4,566.25L215.88,566.68L218.37,567.12L220.85,567.57L223.34,568.03L225.82,568.5L228.3,568.98L230.79,569.47L233.27,569.98L235.75,570.49L238.24,571.01L240.72,571.54L243.2,572.09L245.69,572.64L248.17,573.21L250.66,573.78L253.14,574.37L255.62,574.97L258.11,575.58L260.59,576.21L263.07,576.84L265.56,577.49L268.04,578.14L270.53,578.81L273.01,579.5L275.49,580.19L277.98,580.9L280.46,581.62L282.94,582.35L285.43,583.09L287.91,583.85L290.39,584.62L292.88,585.41L295.36,586.21L297.85,587.02L300.33,587.85L302.81,588.69L305.3,589.54L307.78,590.41L310.26,591.29L312.75,592.19L315.23,593.1L317.71,594.02L320.2,594.97L322.68,595.92L325.17,596.89L327.65,597.88L330.13,598.88L332.62,599.9L335.1,600.94L337.58,601.99L340.07,603.06L342.55,604.14L345.04,605.24L347.52,606.36L350,607.5L352.49,608.65L354.97,609.82L357.45,611.01L359.94,612.21L362.42,613.43L364.9,614.68L367.39,615.94L369.87,617.22L372.36,618.51L374.84,619.83L377.32,621.17L379.81,622.52L382.29,623.9L384.77,625.29L387.26,626.71L389.74,628.14L392.22,629.6L394.71,631.08L397.19,632.58L399.68,634.1L402.16,635.64L404.64,637.2L407.13,638.78L409.61,640.39L412.09,642.02L414.58,643.67L417.06,645.34L419.55,647.04L422.03,648.76L424.51,650.51L427,652.27L429.48,654.07L431.96,655.88L434.45,657.72L436.93,659.59L439.41,661.48L441.9,663.39L444.38,665.34L446.87,667.3L449.35,669.3L451.83,671.31L454.32,673.36L456.8,675.43L459.28,677.53L461.77,679.66L464.25,681.81L466.73,684L469.22,686.21L471.7,688.45L474.19,690.71L476.67,693.01L479.15,695.34L481.64,697.69L484.12,700.08L486.6,702.49L489.09,704.94L491.57,707.42L494.06,709.92L496.54,712.46L499.02,715.03L501.51,717.63L503.99,720.27L506.47,722.94L508.96,725.63L511.44,728.37L513.92,731.13L516.41,733.93L518.89,736.77L521.38,739.63L523.86,742.54L526.34,745.47L528.83,748.45L531.31,751.45L533.79,754.5L536.28,757.58L538.76,760.69L541.24,763.85L543.73,767.04L546.21,770.27L548.7,773.53L551.18,776.83L553.66,780.18L556.15,783.56L558.63,786.98L561.11,790.44L563.6,793.94L566.08,797.48L568.57,801.06L571.05,804.68L573.53,808.34L576.02,812.04L578.5,815.79" fill="none" stroke="#ff0000" stroke-width="2.4" stroke-linecap="butt" stroke-linejoin="round"/>
<path d="M84.25,556L86.73,556.01L89.22,556.03L91.7,556.06L94.18,556.1L96.67,556.16L99.15,556.22L101.64,556.3L104.12,556.4L106.6,556.5L109.09,556.62L111.57,556.74L114.05,556.89L116.54,557.04L119.02,557.2L121.51,557.38L123.99,557.57L126.47,557.78L128.96,557.99L131.44,558.22L133.92,558.46L136.41,558.71L138.89,558.98L141.37,559.26L143.86,559.55L146.34,559.85L148.83,560.17L151.31,560.5L153.79,560.85L156.28,561.2L158.76,561.57L161.24,561.95L163.73,562.35L166.21,562.76L168.69,563.18L171.18,563.62L173.66,564.07L176.15,564.53L178.63,565.01L181.11,565.5L183.6,566L186.08,566.52L188.56,567.05L191.05,567.6L193.53,568.16L196.02,568.73L198.5,569.32L200.98,569.92L203.47,570.54L205.95,571.17L208.43,571.81L210.92,572.47L213.4,573.15L215.88,573.84L218.37,574.54L220.85,575.26L223.34,575.99L225.82,576.74L228.3,577.51L230.79,578.28L233.27,579.08L235.75,579.89L238.24,580.71L240.72,581.56L243.2,582.41L245.69,583.29L248.17,584.17L250.66,585.08L253.14,586L255.62,586.94L258.11,587.89L260.59,588.86L263.07,589.84L265.56,590.85L268.04,591.87L270.53,592.9L273.01,593.96L275.49,595.03L277.98,596.11L280.46,597.22L282.94,598.34L285.43,599.48L287.91,600.64L290.39,601.81L292.88,603.01L295.36,604.22L297.85,605.44L300.33,606.69L302.81,607.96L305.3,609.24L307.78,610.54L310.26,611.87L312.75,613.21L315.23,614.56L317.71,615.94L320.2,617.34L322.68,618.76L325.17,620.19L327.65,621.65L330.13,623.13L332.62,624.62L335.1,626.14L337.58,627.67L340.07,629.23L342.55,630.81L345.04,632.4L347.52,634.02L350,635.66L352.49,637.32L354.97,639L357.45,640.71L359.94,642.43L362.42,644.18L364.9,645.94L367.39,647.73L369.87,649.55L372.36,651.38L374.84,653.24L377.32,655.12L379.81,657.02L382.29,658.94L384.77,660.89L387.26,662.86L389.74,664.86L392.22,666.88L394.71,668.92L397.19,670.99L399.68,673.08L402.16,675.19L404.64,677.33L407.13,679.49L409.61,681.68L412.09,683.9L414.58,686.13L417.06,688.4L419.55,690.69L422.03,693L424.51,695.34L427,697.71L429.48,700.1L431.96,702.52L434.45,704.97L436.93,707.44L439.41,709.94L441.9,712.47L444.38,715.03L446.87,717.61L449.35,720.22L451.83,722.86L454.32,725.52L456.8,728.22L459.28,730.94L461.77,733.69L464.25,736.47L466.73,739.28L469.22,742.12L471.7,744.99L474.19,747.89L476.67,750.82L479.15,753.77L481.64,756.76L484.12,759.78L486.6,762.83L489.09,765.92L491.57,769.03L494.06,772.17L496.54,775.35L499.02,778.56L501.51,781.79L503.99,785.07L506.47,788.37L508.96,791.71L511.44,795.08L513.92,798.48L516.41,801.92L518.89,805.39L521.38,808.89L523.86,812.43L526.34,816.01L528.83,819.61L531.31,823.26L533.79,826.93L536.28,830.65L538.76,834.39L541.24,838.18L543.73,842L546.21,845.85L548.7,849.75L551.18,853.68L553.66,857.64L556.15,861.65L558.63,865.69L561.11,869.77L563.6,873.88L566.08,878.04L568.57,882.23L571.05,886.46L573.53,890.73L576.02,895.04L578.5,899.39" fill="none" stroke="#efefef" stroke-width="4.2" stroke-linecap="butt" stroke-linejoin="round"/>
<path d="M84.25,556L86.73,556.01L89.22,556.03L91.7,556.06L94.18,556.1L96.67,556.16L99.15,556.22L101.64,556.3L104.12,556.4L106.6,556.5L109.09,556.62L111.57,556.74L114.05,556.89L116.54,557.04L119.02,557.2L121.51,557.38L123.99,557.57L126.47,557.78L128.96,557.99L131.44,558.22L133.92,558.46L136.41,558.71L138.89,558.98L141.37,559.26L143.86,559.55L146.34,559.85L148.83,560.17L151.31,560.5L153.79,560.85L156.28,561.2L158.76,561.57L161.24,561.95L163.73,562.35L166.21,562.76L168.69,563.18L171.18,563.62L173.66,564.07L176.15,564.53L178.63,565.01L181.11,565.5L183.6,566L186.08,566.52L188.56,567.05L191.05,567.6L193.53,568.16L196.02,568.73L198.5,569.32L200.98,569.92L203.47,570.54L205.95,571.17L208.43,571.81L210.92,572.47L213.4,573.15L215.88,573.84L218.37,574.54L220.85,575.26L223.34,575.99L225.82,576.74L228.3,577.51L230.79,578.28L233.27,579.08L235.75,579.89L238.24,580.71L240.72,581.56L243.2,582.41L245.69,583.29L248.17,584.17L250.66,585.08L253.14,586L255.62,586.94L258.11,587.89L260.59,588.86L263.07,589.84L265.56,590.85L268.04,591.87L270.53,592.9L273.01,593.96L275.49,595.03L277.98,596.11L280.46,597.22L282.94,598.34L285.43,599.48L287.91,600.64L290.39,601.81L292.88,603.01L295.36,604.22L297.85,605.44L300.33,606.69L302.81,607.96L305.3,609.24L307.78,610.54L310.26,611.87L312.75,613.21L315.23,614.56L317.71,615.94L320.2,617.34L322.68,618.76L325.17,620.19L327.65,621.65L330.13,623.13L332.62,624.62L335.1,626.14L337.58,627.67L340.07,629.23L342.55,630.81L345.04,632.4L347.52,634.02L350,635.66L352.49,637.32L354.97,639L357.45,640.71L359.94,642.43L362.42,644.18L364.9,645.94L367.39,647.73L369.87,649.55L372.36,651.38L374.84,653.24L377.32,655.12L379.81,657.02L382.29,658.94L384.77,660.89L387.26,662.86L389.74,664.86L392.22,666.88L394.71,668.92L397.19,670.99L399.68,673.08L402.16,675.19L404.64,677.33L407.13,679.49L409.61,681.68L412.09,683.9L414.58,686.13L417.06,688.4L419.55,690.69L422.03,693L424.51,695.34L427,697.71L429.48,700.1L431.96,702.52L434.45,704.97L436.93,707.44L439.41,709.94L441.9,712.47L444.38,715.03L446.87,717.61L449.35,720.22L451.83,722.86L454.32,725.52L456.8,728.22L459.28,730.94L461.77,733.69L464.25,736.47L466.73,739.28L469.22,742.12L471.7,744.99L474.19,747.89L476.67,750.82L479.15,753.77L481.64,756.76L484.12,759.78L486.6,762.83L489.09,765.92L491.57,769.03L494.06,772.17L496.54,775.35L499.02,778.56L501.51,781.79L503.99,785.07L506.47,788.37L508.96,791.71L511.44,795.08L513.92,798.48L516.41,801.92L518.89,805.39L521.38,808.89L523.86,812.43L526.34,816.01L528.83,819.61L531.31,823.26L533.79,826.93L536.28,830.65L538.76,834.39L541.24,838.18L543.73,842L546.21,845.85L548.7,849.75L551.18,853.68L553.66,857.64L556.15,861.65L558.63,865.69L561.11,869.77L563.6,873.88L566.08,878.04L568.57,882.23L571.05,886.46L573.53,890.73L576.02,895.04L578.5,899.39" fill="none" stroke="#0000ff" stroke-width="2.4" stroke-linecap="butt" stroke-linejoin="round"/>
<line x1="84.25" y1="555" x2="84.25" y2="946.5" stroke="#bdbdbd" stroke-width="1.4"/>
<line x1="578.5" y1="555" x2="578.5" y2="946.5" stroke="#cfcfcf" stroke-width="1.2"/>
<line x1="84.25" y1="555" x2="578.5" y2="555" stroke="#d0d0d0" stroke-width="1.2"/>
<line x1="84.25" y1="946.5" x2="578.5" y2="946.5" stroke="#707070" stroke-width="2.6"/>
<line x1="183.1" y1="946.5" x2="183.1" y2="941.5" stroke="#b0b0b0" stroke-width="1.1"/>
<line x1="183.1" y1="555" x2="183.1" y2="560" stroke="#b0b0b0" stroke-width="1.1"/>
<line x1="281.95" y1="946.5" x2="281.95" y2="941.5" stroke="#b0b0b0" stroke-width="1.1"/>
<line x1="281.95" y1="555" x2="281.95" y2="560" stroke="#b0b0b0" stroke-width="1.1"/>
<line x1="380.8" y1="946.5" x2="380.8" y2="941.5" stroke="#b0b0b0" stroke-width="1.1"/>
<line x1="380.8" y1="555" x2="380.8" y2="560" stroke="#b0b0b0" stroke-width="1.1"/>
<line x1="479.65" y1="946.5" x2="479.65" y2="941.5" stroke="#b0b0b0" stroke-width="1.1"/>
<line x1="479.65" y1="555" x2="479.65" y2="560" stroke="#b0b0b0" stroke-width="1.1"/>
<line x1="84.25" y1="622.25" x2="89.25" y2="622.25" stroke="#b0b0b0" stroke-width="1.1"/>
<line x1="578.5" y1="622.25" x2="573.5" y2="622.25" stroke="#b0b0b0" stroke-width="1.1"/>
<line x1="84.25" y1="687" x2="89.25" y2="687" stroke="#b0b0b0" stroke-width="1.1"/>
<line x1="578.5" y1="687" x2="573.5" y2="687" stroke="#b0b0b0" stroke-width="1.1"/>
<line x1="84.25" y1="751.75" x2="89.25" y2="751.75" stroke="#b0b0b0" stroke-width="1.1"/>
<line x1="578.5" y1="751.75" x2="573.5" y2="751.75" stroke="#b0b0b0" stroke-width="1.1"/>
<line x1="84.25" y1="816.5" x2="89.25" y2="816.5" stroke="#b0b0b0" stroke-width="1.1"/>
<line x1="578.5" y1="816.5" x2="573.5" y2="816.5" stroke="#b0b0b0" stroke-width="1.1"/>
<line x1="84.25" y1="881.25" x2="89.25" y2="881.25" stroke="#b0b0b0" stroke-width="1.1"/>
<line x1="578.5" y1="881.25" x2="573.5" y2="881.25" stroke="#b0b0b0" stroke-width="1.1"/>
<text x="48" y="561.5" class="s" font-size="22" text-anchor="middle">1</text>
<text x="48" y="626.25" class="s" font-size="22" text-anchor="middle">0.995</text>
<text x="48" y="691" class="s" font-size="22" text-anchor="middle">0.99</text>
<text x="48" y="755.75" class="s" font-size="22" text-anchor="middle">0.985</text>
<text x="48" y="820.5" class="s" font-size="22" text-anchor="middle">0.98</text>
<text x="48" y="885.25" class="s" font-size="22" text-anchor="middle">0.975</text>
<text x="48" y="950" class="s" font-size="22" text-anchor="middle">0.97</text>
<text x="88.75" y="974" class="s" font-size="22" text-anchor="middle">0</text>
<text x="187.6" y="974" class="s" font-size="22" text-anchor="middle">1</text>
<text x="286.45" y="974" class="s" font-size="22" text-anchor="middle">2</text>
<text x="385.3" y="974" class="s" font-size="22" text-anchor="middle">3</text>
<text x="484.15" y="974" class="s" font-size="22" text-anchor="middle">4</text>
<text x="583" y="974" class="s" font-size="22" text-anchor="middle">5</text>
<text transform="translate(545.00,1005.06) scale(1.0000,0.9375)" class="m" font-size="20">&#215;10</text>
<text transform="translate(580.00,998.08) scale(1.0000,0.9231)" class="m" font-size="16">&#8722;2</text>
<path d="M102,820 L137,820" fill="none" stroke="#efefef" stroke-width="4.4" stroke-linecap="butt" stroke-linejoin="round"/>
<path d="M102,820 L137,820" fill="none" stroke="#ff0000" stroke-width="3" stroke-linecap="butt" stroke-linejoin="round"/>
<path d="M102,850.4 L137,850.4" fill="none" stroke="#efefef" stroke-width="4.4" stroke-linecap="butt" stroke-linejoin="round"/>
<path d="M102,850.4 L137,850.4" fill="none" stroke="#0000ff" stroke-width="3" stroke-linecap="butt" stroke-linejoin="round"/>
<path d="M102,882.4 L137,882.4" fill="none" stroke="#efefef" stroke-width="4.4" stroke-dasharray="9 4" stroke-linecap="butt" stroke-linejoin="round"/>
<path d="M102,882.4 L137,882.4" fill="none" stroke="#ff0000" stroke-width="3" stroke-dasharray="9 4" stroke-linecap="butt" stroke-linejoin="round"/>
<path d="M102,911.7 L137,911.7" fill="none" stroke="#efefef" stroke-width="4.4" stroke-dasharray="9 4" stroke-linecap="butt" stroke-linejoin="round"/>
<path d="M102,911.7 L137,911.7" fill="none" stroke="#0000ff" stroke-width="3" stroke-dasharray="9 4" stroke-linecap="butt" stroke-linejoin="round"/>
<text x="143" y="827" class="m" font-size="21"><tspan font-style="italic">T</tspan><tspan font-size="14" dy="4" font-style="italic">cQ</tspan><tspan dy="-4" font-style="italic">/T</tspan><tspan font-size="14" dy="4">0</tspan><tspan dy="-4"> (MF)</tspan></text>
<text x="144" y="858" class="m" font-size="21"><tspan font-style="italic">T</tspan><tspan font-size="14" dy="4" font-style="italic">c0</tspan><tspan dy="-4" font-style="italic">/T</tspan><tspan font-size="14" dy="4">0</tspan><tspan dy="-4"> (MF)</tspan></text>
<text x="147" y="890" class="m" font-size="21"><tspan font-style="italic">T</tspan><tspan font-size="14" dy="4" font-style="italic">cQ</tspan><tspan dy="-4" font-style="italic">/T</tspan><tspan font-size="14" dy="4">0</tspan><tspan dy="-4"> (PS)</tspan></text>
<text x="147" y="920" class="m" font-size="21"><tspan font-style="italic">T</tspan><tspan font-size="14" dy="4" font-style="italic">c0</tspan><tspan dy="-4" font-style="italic">/T</tspan><tspan font-size="14" dy="4">0</tspan><tspan dy="-4"> (PS)</tspan></text>
<text transform="translate(308.11,1009.33) scale(1.1059,1.1059)" class="mi" font-size="30">&#981;</text>
<text transform="translate(330.34,1003.43) scale(0.9467,0.9467)" class="mi" font-size="30">/</text>
<text transform="translate(342.37,1006.82) scale(1.1219,1.0800)" class="m" font-size="28">&#960;</text>
<path d="M688.5,575.53L690.15,575.95L691.8,576.38L693.45,576.84L695.1,577.31L696.75,577.81L698.4,578.32L700.05,578.85L701.7,579.4L703.35,579.97L705.01,580.55L706.66,581.15L708.31,581.77L709.96,582.41L711.61,583.06L713.26,583.74L714.91,584.42L716.56,585.13L718.21,585.85L719.86,586.59L721.51,587.34L723.16,588.11L724.81,588.9L726.46,589.7L728.11,590.51L729.76,591.34L731.41,592.19L733.06,593.05L734.71,593.92L736.36,594.81L738.02,595.71L739.67,596.63L741.32,597.55L742.97,598.5L744.62,599.45L746.27,600.42L747.92,601.4L749.57,602.39L751.22,603.4L752.87,604.41L754.52,605.44L756.17,606.48L757.82,607.53L759.47,608.6L761.12,609.67L762.77,610.75L764.42,611.85L766.07,612.95L767.72,614.06L769.37,615.19L771.03,616.32L772.68,617.46L774.33,618.62L775.98,619.78L777.63,620.95L779.28,622.13L780.93,623.31L782.58,624.51L784.23,625.71L785.88,626.92L787.53,628.14L789.18,629.36L790.83,630.59L792.48,631.83L794.13,633.08L795.78,634.33L797.43,635.59L799.08,636.86L800.73,638.13L802.38,639.41L804.04,640.69L805.69,641.98L807.34,643.27L808.99,644.57L810.64,645.88L812.29,647.19L813.94,648.5L815.59,649.82L817.24,651.15L818.89,652.48L820.54,653.81L822.19,655.15L823.84,656.49L825.49,657.83L827.14,659.18L828.79,660.53L830.44,661.89L832.09,663.25L833.74,664.61L835.39,665.98L837.05,667.34L838.7,668.72L840.35,670.09L842,671.47L843.65,672.85L845.3,674.23L846.95,675.61L848.6,677L850.25,678.39L851.9,679.78L853.55,681.17L855.2,682.57L856.85,683.97L858.5,685.36L860.15,686.77L861.8,688.17L863.45,689.57L865.1,690.98L866.75,692.38L868.4,693.79L870.06,695.2L871.71,696.61L873.36,698.02L875.01,699.44L876.66,700.85L878.31,702.26L879.96,703.68L881.61,705.1L883.26,706.52L884.91,707.93L886.56,709.35L888.21,710.77L889.86,712.19L891.51,713.62L893.16,715.04L894.81,716.46L896.46,717.88L898.11,719.31L899.76,720.73L901.41,722.16L903.07,723.58L904.72,725.01L906.37,726.43L908.02,727.86L909.67,729.28L911.32,730.71L912.97,732.14L914.62,733.56L916.27,734.99L917.92,736.42L919.57,737.85L921.22,739.28L922.87,740.7L924.52,742.13L926.17,743.56L927.82,744.99L929.47,746.42L931.12,747.84L932.77,749.27L934.42,750.7L936.08,752.13L937.73,753.56L939.38,754.99L941.03,756.42L942.68,757.84L944.33,759.27L945.98,760.7L947.63,762.13L949.28,763.56L950.93,764.99L952.58,766.41L954.23,767.84L955.88,769.27L957.53,770.7L959.18,772.12L960.83,773.55L962.48,774.97L964.13,776.4L965.78,777.83L967.43,779.25L969.09,780.68L970.74,782.1L972.39,783.52L974.04,784.95L975.69,786.37L977.34,787.79L978.99,789.22L980.64,790.64L982.29,792.06L983.94,793.48L985.59,794.9L987.24,796.31L988.89,797.73L990.54,799.15L992.19,800.56L993.84,801.98L995.49,803.39L997.14,804.8L998.79,806.22L1000.44,807.63L1002.1,809.04L1003.75,810.44L1005.4,811.85L1007.05,813.25L1008.7,814.66L1010.35,816.06L1012,817.46L1013.65,818.86L1015.3,820.25L1016.95,821.65L1018.6,823.04L1020.25,824.43L1021.9,825.82L1023.55,827.21L1025.2,828.59L1026.85,829.97L1028.5,831.35L1030.15,832.73L1031.8,834.1L1033.45,835.47L1035.11,836.84L1036.76,838.2L1038.41,839.56L1040.06,840.92L1041.71,842.28L1043.36,843.63L1045.01,844.98L1046.66,846.32L1048.31,847.66L1049.96,848.99L1051.61,850.33L1053.26,851.65L1054.91,852.98L1056.56,854.29L1058.21,855.61L1059.86,856.92L1061.51,858.22L1063.16,859.52L1064.81,860.81L1066.46,862.1L1068.12,863.38L1069.77,864.66L1071.42,865.93L1073.07,867.19L1074.72,868.45L1076.37,869.7L1078.02,870.94L1079.67,872.18L1081.32,873.41L1082.97,874.63L1084.62,875.85L1086.27,877.06L1087.92,878.26L1089.57,879.45L1091.22,880.63L1092.87,881.81L1094.52,882.98L1096.17,884.13L1097.82,885.28L1099.47,886.42L1101.13,887.55L1102.78,888.67L1104.43,889.78L1106.08,890.89L1107.73,891.98L1109.38,893.06L1111.03,894.13L1112.68,895.19L1114.33,896.23L1115.98,897.27L1117.63,898.29L1119.28,899.31L1120.93,900.31L1122.58,901.3L1124.23,902.27L1125.88,903.24L1127.53,904.19L1129.18,905.13L1130.83,906.05L1132.48,906.96L1134.14,907.86L1135.79,908.75L1137.44,909.62L1139.09,910.47L1140.74,911.31L1142.39,912.14L1144.04,912.95L1145.69,913.74L1147.34,914.52L1148.99,915.29L1150.64,916.04L1152.29,916.77L1153.94,917.49L1155.59,918.19L1157.24,918.87L1158.89,919.54L1160.54,920.18L1162.19,920.82L1163.84,921.43L1165.49,922.03L1167.15,922.61L1168.8,923.17L1170.45,923.71L1172.1,924.24L1173.75,924.74L1175.4,925.23L1177.05,925.7L1178.7,926.15L1180.35,926.58L1182,926.99" fill="none" stroke="#efefef" stroke-width="4.2" stroke-linecap="butt" stroke-linejoin="round"/>
<path d="M688.5,575.53L690.15,575.95L691.8,576.38L693.45,576.84L695.1,577.31L696.75,577.81L698.4,578.32L700.05,578.85L701.7,579.4L703.35,579.97L705.01,580.55L706.66,581.15L708.31,581.77L709.96,582.41L711.61,583.06L713.26,583.74L714.91,584.42L716.56,585.13L718.21,585.85L719.86,586.59L721.51,587.34L723.16,588.11L724.81,588.9L726.46,589.7L728.11,590.51L729.76,591.34L731.41,592.19L733.06,593.05L734.71,593.92L736.36,594.81L738.02,595.71L739.67,596.63L741.32,597.55L742.97,598.5L744.62,599.45L746.27,600.42L747.92,601.4L749.57,602.39L751.22,603.4L752.87,604.41L754.52,605.44L756.17,606.48L757.82,607.53L759.47,608.6L761.12,609.67L762.77,610.75L764.42,611.85L766.07,612.95L767.72,614.06L769.37,615.19L771.03,616.32L772.68,617.46L774.33,618.62L775.98,619.78L777.63,620.95L779.28,622.13L780.93,623.31L782.58,624.51L784.23,625.71L785.88,626.92L787.53,628.14L789.18,629.36L790.83,630.59L792.48,631.83L794.13,633.08L795.78,634.33L797.43,635.59L799.08,636.86L800.73,638.13L802.38,639.41L804.04,640.69L805.69,641.98L807.34,643.27L808.99,644.57L810.64,645.88L812.29,647.19L813.94,648.5L815.59,649.82L817.24,651.15L818.89,652.48L820.54,653.81L822.19,655.15L823.84,656.49L825.49,657.83L827.14,659.18L828.79,660.53L830.44,661.89L832.09,663.25L833.74,664.61L835.39,665.98L837.05,667.34L838.7,668.72L840.35,670.09L842,671.47L843.65,672.85L845.3,674.23L846.95,675.61L848.6,677L850.25,678.39L851.9,679.78L853.55,681.17L855.2,682.57L856.85,683.97L858.5,685.36L860.15,686.77L861.8,688.17L863.45,689.57L865.1,690.98L866.75,692.38L868.4,693.79L870.06,695.2L871.71,696.61L873.36,698.02L875.01,699.44L876.66,700.85L878.31,702.26L879.96,703.68L881.61,705.1L883.26,706.52L884.91,707.93L886.56,709.35L888.21,710.77L889.86,712.19L891.51,713.62L893.16,715.04L894.81,716.46L896.46,717.88L898.11,719.31L899.76,720.73L901.41,722.16L903.07,723.58L904.72,725.01L906.37,726.43L908.02,727.86L909.67,729.28L911.32,730.71L912.97,732.14L914.62,733.56L916.27,734.99L917.92,736.42L919.57,737.85L921.22,739.28L922.87,740.7L924.52,742.13L926.17,743.56L927.82,744.99L929.47,746.42L931.12,747.84L932.77,749.27L934.42,750.7L936.08,752.13L937.73,753.56L939.38,754.99L941.03,756.42L942.68,757.84L944.33,759.27L945.98,760.7L947.63,762.13L949.28,763.56L950.93,764.99L952.58,766.41L954.23,767.84L955.88,769.27L957.53,770.7L959.18,772.12L960.83,773.55L962.48,774.97L964.13,776.4L965.78,777.83L967.43,779.25L969.09,780.68L970.74,782.1L972.39,783.52L974.04,784.95L975.69,786.37L977.34,787.79L978.99,789.22L980.64,790.64L982.29,792.06L983.94,793.48L985.59,794.9L987.24,796.31L988.89,797.73L990.54,799.15L992.19,800.56L993.84,801.98L995.49,803.39L997.14,804.8L998.79,806.22L1000.44,807.63L1002.1,809.04L1003.75,810.44L1005.4,811.85L1007.05,813.25L1008.7,814.66L1010.35,816.06L1012,817.46L1013.65,818.86L1015.3,820.25L1016.95,821.65L1018.6,823.04L1020.25,824.43L1021.9,825.82L1023.55,827.21L1025.2,828.59L1026.85,829.97L1028.5,831.35L1030.15,832.73L1031.8,834.1L1033.45,835.47L1035.11,836.84L1036.76,838.2L1038.41,839.56L1040.06,840.92L1041.71,842.28L1043.36,843.63L1045.01,844.98L1046.66,846.32L1048.31,847.66L1049.96,848.99L1051.61,850.33L1053.26,851.65L1054.91,852.98L1056.56,854.29L1058.21,855.61L1059.86,856.92L1061.51,858.22L1063.16,859.52L1064.81,860.81L1066.46,862.1L1068.12,863.38L1069.77,864.66L1071.42,865.93L1073.07,867.19L1074.72,868.45L1076.37,869.7L1078.02,870.94L1079.67,872.18L1081.32,873.41L1082.97,874.63L1084.62,875.85L1086.27,877.06L1087.92,878.26L1089.57,879.45L1091.22,880.63L1092.87,881.81L1094.52,882.98L1096.17,884.13L1097.82,885.28L1099.47,886.42L1101.13,887.55L1102.78,888.67L1104.43,889.78L1106.08,890.89L1107.73,891.98L1109.38,893.06L1111.03,894.13L1112.68,895.19L1114.33,896.23L1115.98,897.27L1117.63,898.29L1119.28,899.31L1120.93,900.31L1122.58,901.3L1124.23,902.27L1125.88,903.24L1127.53,904.19L1129.18,905.13L1130.83,906.05L1132.48,906.96L1134.14,907.86L1135.79,908.75L1137.44,909.62L1139.09,910.47L1140.74,911.31L1142.39,912.14L1144.04,912.95L1145.69,913.74L1147.34,914.52L1148.99,915.29L1150.64,916.04L1152.29,916.77L1153.94,917.49L1155.59,918.19L1157.24,918.87L1158.89,919.54L1160.54,920.18L1162.19,920.82L1163.84,921.43L1165.49,922.03L1167.15,922.61L1168.8,923.17L1170.45,923.71L1172.1,924.24L1173.75,924.74L1175.4,925.23L1177.05,925.7L1178.7,926.15L1180.35,926.58L1182,926.99" fill="none" stroke="#ff0000" stroke-width="2.6" stroke-linecap="butt" stroke-linejoin="round"/>
<path d="M689.5,558.8L691.14,559.18L692.79,559.6L694.43,560.04L696.08,560.51L697.72,561L699.36,561.52L701.01,562.06L702.65,562.63L704.29,563.22L705.94,563.83L707.58,564.47L709.23,565.13L710.87,565.82L712.51,566.53L714.16,567.26L715.8,568.01L717.44,568.78L719.09,569.57L720.73,570.39L722.38,571.22L724.02,572.07L725.66,572.95L727.31,573.84L728.95,574.75L730.6,575.68L732.24,576.63L733.88,577.59L735.53,578.57L737.17,579.57L738.81,580.59L740.46,581.62L742.1,582.67L743.75,583.73L745.39,584.81L747.03,585.91L748.68,587.01L750.32,588.14L751.96,589.27L753.61,590.42L755.25,591.58L756.9,592.76L758.54,593.95L760.18,595.15L761.83,596.36L763.47,597.59L765.12,598.82L766.76,600.07L768.4,601.33L770.05,602.6L771.69,603.88L773.33,605.17L774.98,606.46L776.62,607.77L778.27,609.09L779.91,610.41L781.55,611.75L783.2,613.09L784.84,614.44L786.48,615.8L788.13,617.17L789.77,618.54L791.42,619.92L793.06,621.31L794.7,622.71L796.35,624.11L797.99,625.52L799.64,626.93L801.28,628.35L802.92,629.77L804.57,631.2L806.21,632.64L807.85,634.08L809.5,635.53L811.14,636.98L812.79,638.43L814.43,639.89L816.07,641.35L817.72,642.82L819.36,644.29L821.01,645.76L822.65,647.24L824.29,648.72L825.94,650.21L827.58,651.69L829.22,653.18L830.87,654.68L832.51,656.17L834.16,657.67L835.8,659.17L837.44,660.67L839.09,662.18L840.73,663.68L842.37,665.19L844.02,666.7L845.66,668.21L847.31,669.73L848.95,671.24L850.59,672.76L852.24,674.27L853.88,675.79L855.53,677.31L857.17,678.83L858.81,680.36L860.46,681.88L862.1,683.4L863.74,684.93L865.39,686.45L867.03,687.98L868.68,689.5L870.32,691.03L871.96,692.56L873.61,694.08L875.25,695.61L876.89,697.14L878.54,698.67L880.18,700.2L881.83,701.73L883.47,703.26L885.11,704.79L886.76,706.32L888.4,707.85L890.05,709.37L891.69,710.9L893.33,712.43L894.98,713.96L896.62,715.49L898.26,717.02L899.91,718.55L901.55,720.08L903.2,721.61L904.84,723.14L906.48,724.67L908.13,726.2L909.77,727.73L911.41,729.26L913.06,730.79L914.7,732.32L916.35,733.85L917.99,735.38L919.63,736.91L921.28,738.44L922.92,739.97L924.57,741.49L926.21,743.02L927.85,744.55L929.5,746.08L931.14,747.61L932.78,749.14L934.43,750.67L936.07,752.2L937.72,753.73L939.36,755.25L941,756.78L942.65,758.31L944.29,759.84L945.93,761.37L947.58,762.9L949.22,764.43L950.87,765.96L952.51,767.49L954.15,769.02L955.8,770.54L957.44,772.07L959.09,773.6L960.73,775.13L962.37,776.66L964.02,778.19L965.66,779.72L967.3,781.25L968.95,782.78L970.59,784.31L972.24,785.84L973.88,787.37L975.52,788.9L977.17,790.43L978.81,791.96L980.45,793.49L982.1,795.02L983.74,796.55L985.39,798.08L987.03,799.61L988.67,801.14L990.32,802.67L991.96,804.2L993.61,805.72L995.25,807.25L996.89,808.78L998.54,810.31L1000.18,811.84L1001.82,813.36L1003.47,814.89L1005.11,816.41L1006.76,817.94L1008.4,819.46L1010.04,820.99L1011.69,822.51L1013.33,824.03L1014.97,825.55L1016.62,827.07L1018.26,828.59L1019.91,830.1L1021.55,831.62L1023.19,833.13L1024.84,834.65L1026.48,836.16L1028.13,837.67L1029.77,839.18L1031.41,840.68L1033.06,842.19L1034.7,843.69L1036.34,845.19L1037.99,846.68L1039.63,848.18L1041.28,849.67L1042.92,851.16L1044.56,852.65L1046.21,854.13L1047.85,855.61L1049.49,857.09L1051.14,858.56L1052.78,860.03L1054.43,861.49L1056.07,862.96L1057.71,864.41L1059.36,865.87L1061,867.32L1062.65,868.76L1064.29,870.2L1065.93,871.63L1067.58,873.06L1069.22,874.48L1070.86,875.9L1072.51,877.31L1074.15,878.72L1075.8,880.12L1077.44,881.51L1079.08,882.9L1080.73,884.28L1082.37,885.65L1084.02,887.01L1085.66,888.37L1087.3,889.72L1088.95,891.06L1090.59,892.39L1092.23,893.71L1093.88,895.03L1095.52,896.33L1097.17,897.63L1098.81,898.91L1100.45,900.19L1102.1,901.45L1103.74,902.71L1105.38,903.95L1107.03,905.19L1108.67,906.41L1110.32,907.62L1111.96,908.81L1113.6,910L1115.25,911.17L1116.89,912.33L1118.54,913.48L1120.18,914.61L1121.82,915.73L1123.47,916.83L1125.11,917.92L1126.75,918.99L1128.4,920.05L1130.04,921.09L1131.69,922.12L1133.33,923.13L1134.97,924.13L1136.62,925.1L1138.26,926.06L1139.9,927L1141.55,927.93L1143.19,928.83L1144.84,929.72L1146.48,930.59L1148.12,931.44L1149.77,932.26L1151.41,933.07L1153.06,933.86L1154.7,934.62L1156.34,935.37L1157.99,936.09L1159.63,936.79L1161.27,937.47L1162.92,938.12L1164.56,938.76L1166.21,939.36L1167.85,939.95L1169.49,940.51L1171.14,941.04L1172.78,941.55L1174.42,942.04L1176.07,942.5L1177.71,942.93L1179.36,943.34L1181,943.71" fill="none" stroke="#efefef" stroke-width="4.2" stroke-dasharray="8 9.4" stroke-linecap="round"/>
<path d="M689.5,558.8L691.14,559.18L692.79,559.6L694.43,560.04L696.08,560.51L697.72,561L699.36,561.52L701.01,562.06L702.65,562.63L704.29,563.22L705.94,563.83L707.58,564.47L709.23,565.13L710.87,565.82L712.51,566.53L714.16,567.26L715.8,568.01L717.44,568.78L719.09,569.57L720.73,570.39L722.38,571.22L724.02,572.07L725.66,572.95L727.31,573.84L728.95,574.75L730.6,575.68L732.24,576.63L733.88,577.59L735.53,578.57L737.17,579.57L738.81,580.59L740.46,581.62L742.1,582.67L743.75,583.73L745.39,584.81L747.03,585.91L748.68,587.01L750.32,588.14L751.96,589.27L753.61,590.42L755.25,591.58L756.9,592.76L758.54,593.95L760.18,595.15L761.83,596.36L763.47,597.59L765.12,598.82L766.76,600.07L768.4,601.33L770.05,602.6L771.69,603.88L773.33,605.17L774.98,606.46L776.62,607.77L778.27,609.09L779.91,610.41L781.55,611.75L783.2,613.09L784.84,614.44L786.48,615.8L788.13,617.17L789.77,618.54L791.42,619.92L793.06,621.31L794.7,622.71L796.35,624.11L797.99,625.52L799.64,626.93L801.28,628.35L802.92,629.77L804.57,631.2L806.21,632.64L807.85,634.08L809.5,635.53L811.14,636.98L812.79,638.43L814.43,639.89L816.07,641.35L817.72,642.82L819.36,644.29L821.01,645.76L822.65,647.24L824.29,648.72L825.94,650.21L827.58,651.69L829.22,653.18L830.87,654.68L832.51,656.17L834.16,657.67L835.8,659.17L837.44,660.67L839.09,662.18L840.73,663.68L842.37,665.19L844.02,666.7L845.66,668.21L847.31,669.73L848.95,671.24L850.59,672.76L852.24,674.27L853.88,675.79L855.53,677.31L857.17,678.83L858.81,680.36L860.46,681.88L862.1,683.4L863.74,684.93L865.39,686.45L867.03,687.98L868.68,689.5L870.32,691.03L871.96,692.56L873.61,694.08L875.25,695.61L876.89,697.14L878.54,698.67L880.18,700.2L881.83,701.73L883.47,703.26L885.11,704.79L886.76,706.32L888.4,707.85L890.05,709.37L891.69,710.9L893.33,712.43L894.98,713.96L896.62,715.49L898.26,717.02L899.91,718.55L901.55,720.08L903.2,721.61L904.84,723.14L906.48,724.67L908.13,726.2L909.77,727.73L911.41,729.26L913.06,730.79L914.7,732.32L916.35,733.85L917.99,735.38L919.63,736.91L921.28,738.44L922.92,739.97L924.57,741.49L926.21,743.02L927.85,744.55L929.5,746.08L931.14,747.61L932.78,749.14L934.43,750.67L936.07,752.2L937.72,753.73L939.36,755.25L941,756.78L942.65,758.31L944.29,759.84L945.93,761.37L947.58,762.9L949.22,764.43L950.87,765.96L952.51,767.49L954.15,769.02L955.8,770.54L957.44,772.07L959.09,773.6L960.73,775.13L962.37,776.66L964.02,778.19L965.66,779.72L967.3,781.25L968.95,782.78L970.59,784.31L972.24,785.84L973.88,787.37L975.52,788.9L977.17,790.43L978.81,791.96L980.45,793.49L982.1,795.02L983.74,796.55L985.39,798.08L987.03,799.61L988.67,801.14L990.32,802.67L991.96,804.2L993.61,805.72L995.25,807.25L996.89,808.78L998.54,810.31L1000.18,811.84L1001.82,813.36L1003.47,814.89L1005.11,816.41L1006.76,817.94L1008.4,819.46L1010.04,820.99L1011.69,822.51L1013.33,824.03L1014.97,825.55L1016.62,827.07L1018.26,828.59L1019.91,830.1L1021.55,831.62L1023.19,833.13L1024.84,834.65L1026.48,836.16L1028.13,837.67L1029.77,839.18L1031.41,840.68L1033.06,842.19L1034.7,843.69L1036.34,845.19L1037.99,846.68L1039.63,848.18L1041.28,849.67L1042.92,851.16L1044.56,852.65L1046.21,854.13L1047.85,855.61L1049.49,857.09L1051.14,858.56L1052.78,860.03L1054.43,861.49L1056.07,862.96L1057.71,864.41L1059.36,865.87L1061,867.32L1062.65,868.76L1064.29,870.2L1065.93,871.63L1067.58,873.06L1069.22,874.48L1070.86,875.9L1072.51,877.31L1074.15,878.72L1075.8,880.12L1077.44,881.51L1079.08,882.9L1080.73,884.28L1082.37,885.65L1084.02,887.01L1085.66,888.37L1087.3,889.72L1088.95,891.06L1090.59,892.39L1092.23,893.71L1093.88,895.03L1095.52,896.33L1097.17,897.63L1098.81,898.91L1100.45,900.19L1102.1,901.45L1103.74,902.71L1105.38,903.95L1107.03,905.19L1108.67,906.41L1110.32,907.62L1111.96,908.81L1113.6,910L1115.25,911.17L1116.89,912.33L1118.54,913.48L1120.18,914.61L1121.82,915.73L1123.47,916.83L1125.11,917.92L1126.75,918.99L1128.4,920.05L1130.04,921.09L1131.69,922.12L1133.33,923.13L1134.97,924.13L1136.62,925.1L1138.26,926.06L1139.9,927L1141.55,927.93L1143.19,928.83L1144.84,929.72L1146.48,930.59L1148.12,931.44L1149.77,932.26L1151.41,933.07L1153.06,933.86L1154.7,934.62L1156.34,935.37L1157.99,936.09L1159.63,936.79L1161.27,937.47L1162.92,938.12L1164.56,938.76L1166.21,939.36L1167.85,939.95L1169.49,940.51L1171.14,941.04L1172.78,941.55L1174.42,942.04L1176.07,942.5L1177.71,942.93L1179.36,943.34L1181,943.71" fill="none" stroke="#000" stroke-width="2.0" stroke-dasharray="8 9.4" stroke-linecap="round"/>
<rect x="688.5" y="555.5" width="493.5" height="392" fill="none" stroke="#cfcfcf" stroke-width="1.2"/>
<line x1="688.5" y1="555.5" x2="1182" y2="555.5" stroke="#d8d8d8" stroke-width="2.4"/>
<line x1="737.4" y1="947.5" x2="737.4" y2="942.5" stroke="#b0b0b0" stroke-width="1.1"/>
<line x1="737.4" y1="555.5" x2="737.4" y2="560.5" stroke="#b0b0b0" stroke-width="1.1"/>
<line x1="786.8" y1="947.5" x2="786.8" y2="942.5" stroke="#b0b0b0" stroke-width="1.1"/>
<line x1="786.8" y1="555.5" x2="786.8" y2="560.5" stroke="#b0b0b0" stroke-width="1.1"/>
<line x1="836.2" y1="947.5" x2="836.2" y2="942.5" stroke="#b0b0b0" stroke-width="1.1"/>
<line x1="836.2" y1="555.5" x2="836.2" y2="560.5" stroke="#b0b0b0" stroke-width="1.1"/>
<line x1="885.6" y1="947.5" x2="885.6" y2="942.5" stroke="#b0b0b0" stroke-width="1.1"/>
<line x1="885.6" y1="555.5" x2="885.6" y2="560.5" stroke="#b0b0b0" stroke-width="1.1"/>
<line x1="935" y1="947.5" x2="935" y2="942.5" stroke="#b0b0b0" stroke-width="1.1"/>
<line x1="935" y1="555.5" x2="935" y2="560.5" stroke="#b0b0b0" stroke-width="1.1"/>
<line x1="984.4" y1="947.5" x2="984.4" y2="942.5" stroke="#b0b0b0" stroke-width="1.1"/>
<line x1="984.4" y1="555.5" x2="984.4" y2="560.5" stroke="#b0b0b0" stroke-width="1.1"/>
<line x1="1033.8" y1="947.5" x2="1033.8" y2="942.5" stroke="#b0b0b0" stroke-width="1.1"/>
<line x1="1033.8" y1="555.5" x2="1033.8" y2="560.5" stroke="#b0b0b0" stroke-width="1.1"/>
<line x1="1083.2" y1="947.5" x2="1083.2" y2="942.5" stroke="#b0b0b0" stroke-width="1.1"/>
<line x1="1083.2" y1="555.5" x2="1083.2" y2="560.5" stroke="#b0b0b0" stroke-width="1.1"/>
<line x1="1132.6" y1="947.5" x2="1132.6" y2="942.5" stroke="#b0b0b0" stroke-width="1.1"/>
<line x1="1132.6" y1="555.5" x2="1132.6" y2="560.5" stroke="#b0b0b0" stroke-width="1.1"/>
<line x1="688.5" y1="908" x2="693.5" y2="908" stroke="#b0b0b0" stroke-width="1.1"/>
<line x1="1182" y1="908" x2="1177" y2="908" stroke="#b0b0b0" stroke-width="1.1"/>
<line x1="688.5" y1="868.8" x2="693.5" y2="868.8" stroke="#b0b0b0" stroke-width="1.1"/>
<line x1="1182" y1="868.8" x2="1177" y2="868.8" stroke="#b0b0b0" stroke-width="1.1"/>
<line x1="688.5" y1="829.6" x2="693.5" y2="829.6" stroke="#b0b0b0" stroke-width="1.1"/>
<line x1="1182" y1="829.6" x2="1177" y2="829.6" stroke="#b0b0b0" stroke-width="1.1"/>
<line x1="688.5" y1="790.4" x2="693.5" y2="790.4" stroke="#b0b0b0" stroke-width="1.1"/>
<line x1="1182" y1="790.4" x2="1177" y2="790.4" stroke="#b0b0b0" stroke-width="1.1"/>
<line x1="688.5" y1="751.2" x2="693.5" y2="751.2" stroke="#b0b0b0" stroke-width="1.1"/>
<line x1="1182" y1="751.2" x2="1177" y2="751.2" stroke="#b0b0b0" stroke-width="1.1"/>
<line x1="688.5" y1="712" x2="693.5" y2="712" stroke="#b0b0b0" stroke-width="1.1"/>
<line x1="1182" y1="712" x2="1177" y2="712" stroke="#b0b0b0" stroke-width="1.1"/>
<line x1="688.5" y1="672.8" x2="693.5" y2="672.8" stroke="#b0b0b0" stroke-width="1.1"/>
<line x1="1182" y1="672.8" x2="1177" y2="672.8" stroke="#b0b0b0" stroke-width="1.1"/>
<line x1="688.5" y1="633.6" x2="693.5" y2="633.6" stroke="#b0b0b0" stroke-width="1.1"/>
<line x1="1182" y1="633.6" x2="1177" y2="633.6" stroke="#b0b0b0" stroke-width="1.1"/>
<line x1="688.5" y1="594.4" x2="693.5" y2="594.4" stroke="#b0b0b0" stroke-width="1.1"/>
<line x1="1182" y1="594.4" x2="1177" y2="594.4" stroke="#b0b0b0" stroke-width="1.1"/>
<text x="660.5" y="952.7" class="s" font-size="22" text-anchor="middle">-10</text>
<text x="660.5" y="913.5" class="s" font-size="22" text-anchor="middle">-8</text>
<text x="660.5" y="874.3" class="s" font-size="22" text-anchor="middle">-6</text>
<text x="660.5" y="835.1" class="s" font-size="22" text-anchor="middle">-4</text>
<text x="660.5" y="795.9" class="s" font-size="22" text-anchor="middle">-2</text>
<text x="660.5" y="756.7" class="s" font-size="22" text-anchor="middle">0</text>
<text x="660.5" y="717.5" class="s" font-size="22" text-anchor="middle">2</text>
<text x="660.5" y="678.3" class="s" font-size="22" text-anchor="middle">4</text>
<text x="660.5" y="639.1" class="s" font-size="22" text-anchor="middle">6</text>
<text x="660.5" y="599.9" class="s" font-size="22" text-anchor="middle">8</text>
<text x="660.5" y="560.7" class="s" font-size="22" text-anchor="middle">10</text>
<text x="689.5" y="975" class="s" font-size="22" text-anchor="middle">-5</text>
<text x="738.9" y="975" class="s" font-size="22" text-anchor="middle">-4</text>
<text x="788.3" y="975" class="s" font-size="22" text-anchor="middle">-3</text>
<text x="837.7" y="975" class="s" font-size="22" text-anchor="middle">-2</text>
<text x="887.1" y="975" class="s" font-size="22" text-anchor="middle">-1</text>
<text x="935" y="975" class="s" font-size="22" text-anchor="middle">0</text>
<text x="984.4" y="975" class="s" font-size="22" text-anchor="middle">1</text>
<text x="1033.8" y="975" class="s" font-size="22" text-anchor="middle">2</text>
<text x="1083.2" y="975" class="s" font-size="22" text-anchor="middle">3</text>
<text x="1132.6" y="975" class="s" font-size="22" text-anchor="middle">4</text>
<text x="1182" y="975" class="s" font-size="22" text-anchor="middle">5</text>
<text transform="translate(1147.75,1006.06) scale(1.0469,0.9375)" class="m" font-size="20">&#215;10</text>
<text transform="translate(1183.03,998.62) scale(1.0278,0.8846)" class="m" font-size="16">&#8722;2</text>
<text transform="translate(673.75,539.04) scale(1.0797,0.9625)" class="m" font-size="20">&#215;10</text>
<text transform="translate(709.98,532.10) scale(0.9833,0.8000)" class="m" font-size="16">&#8722;2</text>
<path d="M1068,578.3 L1102.6,578.3" fill="none" stroke="#efefef" stroke-width="4.4" stroke-linecap="butt" stroke-linejoin="round"/>
<path d="M1068,578.3 L1102.6,578.3" fill="none" stroke="#ff0000" stroke-width="3" stroke-linecap="butt" stroke-linejoin="round"/>
<path d="M1070,602 L1101,602" fill="none" stroke="#efefef" stroke-width="4.2" stroke-dasharray="6 6.3" stroke-linecap="round"/>
<path d="M1070,602 L1101,602" fill="none" stroke="#000" stroke-width="2" stroke-dasharray="6 6.3" stroke-linecap="round"/>
<text x="1112" y="585" class="m" font-size="21"><tspan font-style="italic">Q</tspan> (MF)</text>
<text x="1112" y="609" class="m" font-size="21"><tspan font-style="italic">Q</tspan> (PS)</text>
<text transform="translate(905.18,1011.58) scale(1.1765,1.1765)" class="mi" font-size="30">&#981;</text>
<text transform="translate(928.18,1004.20) scale(0.9600,0.9600)" class="mi" font-size="30">/</text>
<text transform="translate(940.42,1006.91) scale(1.1250,1.0867)" class="m" font-size="28">&#960;</text>
<text transform="translate(634.54,777.90) rotate(-90) scale(1.1556,1.0769)" class="m" font-size="29"><tspan font-style="italic">Q</tspan>/&#960;</text>
</svg>
</body></html>
